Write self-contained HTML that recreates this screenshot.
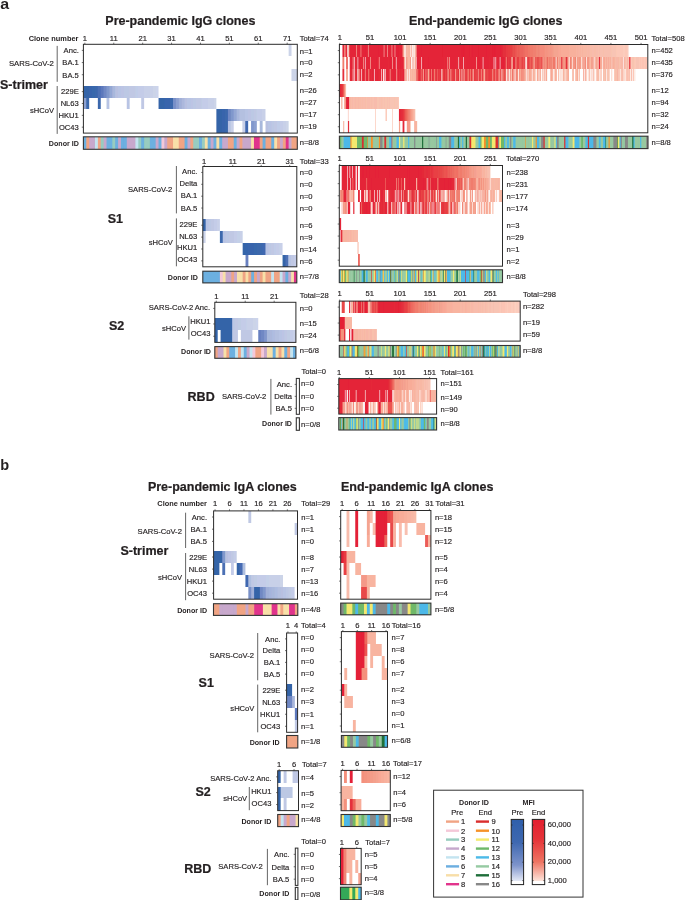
<!DOCTYPE html><html><head><meta charset="utf-8"><style>html,body{margin:0;padding:0;background:#fff}svg{display:block;will-change:transform}</style></head><body><svg width="685" height="900" viewBox="0 0 685 900" font-family="Liberation Sans, sans-serif" font-size="7.6" fill="#231f20"><style>text{stroke:#231f20;stroke-width:0.16px}text[font-weight="bold"]{stroke-width:0}text[font-size="12.5"]{stroke-width:0.22px}</style><rect width="685" height="900" fill="#fff"/><text x="0.30" y="8.90" font-weight="bold" textLength="8.90" lengthAdjust="spacingAndGlyphs" font-size="14">a</text><text x="105.30" y="25.10" font-weight="bold" font-size="12.5">Pre-pandemic IgG clones</text><text x="409.00" y="25.10" font-weight="bold" font-size="12.5">End-pandemic IgG clones</text><text x="78.40" y="41.20" font-weight="bold" text-anchor="end" font-size="7.4">Clone number</text><g stroke-width="12" fill="none"><path stroke="#ecf0f8" d="M288 50h1"/><path stroke="#ccd4e8" d="M289 50h2"/><path stroke="#e4e8f4" d="M291 50h1"/></g><g stroke-width="12" fill="none"><path stroke="#e4e8f4" d="M291 75h1"/><path stroke="#ccd4e8" d="M292 75h5"/><path stroke="#f0f0f8" d="M297 75h1"/></g><g stroke-width="12" fill="none"><path stroke="#84a4cc" d="M83 92h1"/><path stroke="#3464a8" d="M84 92h5"/><path stroke="#3864ac" d="M89 92h3"/><path stroke="#3868ac" d="M92 92h3"/><path stroke="#3c68ac" d="M95 92h2"/><path stroke="#4068b0" d="M97 92h1"/><path stroke="#4c70b4" d="M98 92h2"/><path stroke="#5070b8" d="M100 92h1"/><path stroke="#5c78bc" d="M101 92h2"/><path stroke="#6480c0" d="M103 92h1"/><path stroke="#7088c4" d="M104 92h2"/><path stroke="#7890c8" d="M106 92h1"/><path stroke="#8098cc" d="M107 92h2"/><path stroke="#8ca0d0" d="M109 92h1"/><path stroke="#94a8d4" d="M110 92h2"/><path stroke="#a4b0d8" d="M112 92h1"/><path stroke="#a8b8dc" d="M113 92h2"/><path stroke="#b4c0e0" d="M115 92h1"/><path stroke="#b8c0e0" d="M116 92h2"/><path stroke="#b8c4e4" d="M118 92h3"/><path stroke="#bcc4e4" d="M121 92h3"/><path stroke="#bcc8e4" d="M124 92h5"/><path stroke="#c0c8e4" d="M129 92h6"/><path stroke="#c0cce4" d="M135 92h1"/><path stroke="#c0cce8" d="M136 92h2"/><path stroke="#c4cce8" d="M138 92h6"/><path stroke="#c8d0e8" d="M144 92h9"/><path stroke="#ccd4e8" d="M153 92h3"/><path stroke="#ccd4ec" d="M156 92h2"/><path stroke="#e4e8f4" d="M158 92h1"/></g><g stroke-width="11" fill="none"><path stroke="#b8c4e4" d="M83 103.5h1m23 0h2m18 0h2m58 0h4"/><path stroke="#8ca0d0" d="M84 103.5h2m90 0h2"/><path stroke="#5078b8" d="M86 103.5h1"/><path stroke="#3c68ac" d="M87 103.5h2m9 0h2m70 0h3"/><path stroke="#dce4f0" d="M89 103.5h1m16 0h1"/><path stroke="#e4e8f4" d="M97 103.5h1m11 0h1"/><path stroke="#6c8cc0" d="M100 103.5h1"/><path stroke="#f0f0f8" d="M126 103.5h1"/><path stroke="#d0d8ec" d="M129 103.5h1"/><path stroke="#ccd4ec" d="M141 103.5h1"/><path stroke="#c0c8e4" d="M142 103.5h2m52 0h5"/><path stroke="#f8f8fc" d="M144 103.5h1"/><path stroke="#a4b8d8" d="M158 103.5h1"/><path stroke="#3464a8" d="M159 103.5h5"/><path stroke="#3464ac" d="M164 103.5h1"/><path stroke="#3864ac" d="M165 103.5h5"/><path stroke="#7890c8" d="M173 103.5h2"/><path stroke="#7c90c8" d="M175 103.5h1"/><path stroke="#90a0d0" d="M178 103.5h1"/><path stroke="#a0b0d8" d="M179 103.5h2"/><path stroke="#a4b0d8" d="M181 103.5h1"/><path stroke="#acb8dc" d="M182 103.5h2"/><path stroke="#b0bce0" d="M184 103.5h1"/><path stroke="#b8c0e0" d="M185 103.5h2"/><path stroke="#bcc4e4" d="M191 103.5h2"/><path stroke="#bcc8e4" d="M193 103.5h3"/><path stroke="#c0cce4" d="M201 103.5h1"/><path stroke="#c4cce8" d="M202 103.5h6"/><path stroke="#c8d0e8" d="M208 103.5h6"/><path stroke="#ccd4e8" d="M214 103.5h2"/><path stroke="#ecf0f8" d="M216 103.5h1"/></g><g stroke-width="12" fill="none"><path stroke="#809cc8" d="M216 115h1"/><path stroke="#3464a8" d="M217 115h5"/><path stroke="#3864ac" d="M222 115h3"/><path stroke="#3c68ac" d="M225 115h2"/><path stroke="#4068b0" d="M227 115h1"/><path stroke="#7088c4" d="M228 115h2"/><path stroke="#748cc4" d="M230 115h1"/><path stroke="#8098cc" d="M231 115h2"/><path stroke="#889cd0" d="M233 115h1"/><path stroke="#94a8d4" d="M234 115h2"/><path stroke="#9cacd8" d="M236 115h1"/><path stroke="#a8b8dc" d="M237 115h2"/><path stroke="#b0bce0" d="M239 115h1"/><path stroke="#b4c0e0" d="M240 115h5"/><path stroke="#b8c4e4" d="M245 115h3"/><path stroke="#bcc4e4" d="M248 115h3"/><path stroke="#bcc8e4" d="M251 115h3"/><path stroke="#c0c8e4" d="M254 115h2"/><path stroke="#c0cce4" d="M256 115h1"/><path stroke="#c4cce8" d="M257 115h5"/><path stroke="#c8d0e8" d="M262 115h3"/><path stroke="#e4e8f4" d="M265 115h1"/></g><g stroke-width="12" fill="none"><path stroke="#809cc8" d="M216 127h1"/><path stroke="#3464a8" d="M217 127h5"/><path stroke="#3864ac" d="M222 127h3"/><path stroke="#3868ac" d="M225 127h2"/><path stroke="#446cb0" d="M227 127h1"/><path stroke="#b8c4e4" d="M228 127h2m38 0h3"/><path stroke="#bcc8e4" d="M230 127h1m41 0h2"/><path stroke="#c8d0e8" d="M231 127h2m10 0h2m38 0h3"/><path stroke="#d8dcf0" d="M233 127h1"/><path stroke="#dce0f0" d="M242 127h1m22 0h1"/><path stroke="#6484c0" d="M245 127h1"/><path stroke="#4068b0" d="M246 127h2"/><path stroke="#e0e8f4" d="M248 127h1"/><path stroke="#889cd0" d="M251 127h1"/><path stroke="#8098cc" d="M252 127h1"/><path stroke="#8498cc" d="M253 127h1"/><path stroke="#8ca0d0" d="M254 127h2"/><path stroke="#a0b0d8" d="M256 127h1"/><path stroke="#e8ecf4" d="M259 127h1"/><path stroke="#a8b8dc" d="M260 127h2"/><path stroke="#c8d4e8" d="M262 127h1"/><path stroke="#b8c0e0" d="M266 127h2"/><path stroke="#bcc4e4" d="M271 127h1"/><path stroke="#c0c8e4" d="M274 127h3"/><path stroke="#c0cce8" d="M277 127h3"/><path stroke="#c4cce8" d="M280 127h3"/><path stroke="#ccd4e8" d="M286 127h2"/><path stroke="#dce4f0" d="M288 127h1"/></g><rect x="83.40" y="44.30" width="213.90" height="88.80" fill="none" stroke="#2b2b2b" stroke-width="1"/><path d="M83.40 50.38h-1.6" stroke="#333" stroke-width="0.7"/><path d="M83.40 62.55h-1.6" stroke="#333" stroke-width="0.7"/><path d="M83.40 74.72h-1.6" stroke="#333" stroke-width="0.7"/><path d="M83.40 91.62h-1.6" stroke="#333" stroke-width="0.7"/><path d="M83.40 103.47h-1.6" stroke="#333" stroke-width="0.7"/><path d="M83.40 115.33h-1.6" stroke="#333" stroke-width="0.7"/><path d="M83.40 127.17h-1.6" stroke="#333" stroke-width="0.7"/><path d="M84.85 44.30v-1.6" stroke="#333" stroke-width="0.7"/><path d="M113.75 44.30v-1.6" stroke="#333" stroke-width="0.7"/><path d="M142.66 44.30v-1.6" stroke="#333" stroke-width="0.7"/><path d="M171.56 44.30v-1.6" stroke="#333" stroke-width="0.7"/><path d="M200.47 44.30v-1.6" stroke="#333" stroke-width="0.7"/><path d="M229.37 44.30v-1.6" stroke="#333" stroke-width="0.7"/><path d="M258.28 44.30v-1.6" stroke="#333" stroke-width="0.7"/><path d="M287.18 44.30v-1.6" stroke="#333" stroke-width="0.7"/><text x="84.85" y="41.20" text-anchor="middle">1</text><text x="113.75" y="41.20" text-anchor="middle">11</text><text x="142.66" y="41.20" text-anchor="middle">21</text><text x="171.56" y="41.20" text-anchor="middle">31</text><text x="200.47" y="41.20" text-anchor="middle">41</text><text x="229.37" y="41.20" text-anchor="middle">51</text><text x="258.28" y="41.20" text-anchor="middle">61</text><text x="287.18" y="41.20" text-anchor="middle">71</text><text x="299.70" y="41.10">Total=74</text><text x="299.70" y="53.60">n=1</text><text x="299.70" y="65.40">n=0</text><text x="299.70" y="77.20">n=2</text><text x="299.70" y="93.20">n=26</text><text x="299.70" y="105.00">n=27</text><text x="299.70" y="117.20">n=17</text><text x="299.70" y="129.30">n=19</text><text x="78.80" y="53.18" text-anchor="end">Anc.</text><text x="78.80" y="65.35" text-anchor="end">BA.1</text><text x="78.80" y="77.52" text-anchor="end">BA.5</text><text x="78.80" y="94.42" text-anchor="end">229E</text><text x="78.80" y="106.27" text-anchor="end">NL63</text><text x="78.80" y="118.12" text-anchor="end">HKU1</text><text x="78.80" y="129.97" text-anchor="end">OC43</text><text x="8.90" y="65.60" textLength="45.00" lengthAdjust="spacingAndGlyphs">SARS-CoV-2</text><path d="M57.20 45.90V81.80" stroke="#555" stroke-width="0.9"/><text x="30.00" y="112.80">sHCoV</text><path d="M57.20 86.00V133.90" stroke="#555" stroke-width="0.9"/><text x="0.00" y="88.90" font-weight="bold" font-size="12.5">S-trimer</text><text x="78.80" y="145.70" font-weight="bold" text-anchor="end" font-size="7.1">Donor ID</text><g stroke-width="12" fill="none"><path stroke="#a8d0ec" d="M83 143h1"/><path stroke="#6cb0e0" d="M84 143h2m21 0h5m4 0h2m3 0h2m1 0h2m16 0h2m6 0h5m4 0h2m24 0h2m12 0h2m7 0h2m4 0h2m4 0h2m12 0h2m27 0h2m7 0h2"/><path stroke="#cca8a0" d="M86 143h1m146 0h1"/><path stroke="#f0a484" d="M87 143h2m9 0h2m68 0h5m6 0h5m7 0h2m35 0h5m7 0h2m18 0h2m4 0h5m7 0h1m4 0h2m7 0h5"/><path stroke="#cca8c0" d="M89 143h1m192 0h1"/><path stroke="#c8a8cc" d="M90 143h4m10 0h2m13 0h1m7 0h8m21 0h2m7 0h2m21 0h2m21 0h2m10 0h4m10 0h2m4 0h8m29 0h2m7 0h2"/><path stroke="#c4accc" d="M94 143h1"/><path stroke="#c4e4f0" d="M95 143h2m39 0h2"/><path stroke="#ccdce0" d="M97 143h1"/><path stroke="#d8b094" d="M100 143h1"/><path stroke="#98ccc0" d="M101 143h2m10 0h2m24 0h2m4 0h4m45 0h5m3 0h2"/><path stroke="#a8c0c4" d="M103 143h1"/><path stroke="#9cacd4" d="M106 143h1m51 0h1m28 0h1"/><path stroke="#88c4c8" d="M112 143h1"/><path stroke="#74b4d8" d="M115 143h1m25 0h1"/><path stroke="#c0a8cc" d="M118 143h1"/><path stroke="#c4a8cc" d="M120 143h1"/><path stroke="#6cace0" d="M123 143h1"/><path stroke="#80acdc" d="M126 143h1"/><path stroke="#c4cce0" d="M135 143h1"/><path stroke="#a4d4d0" d="M138 143h1"/><path stroke="#90c8c0" d="M144 143h1m4 0h1"/><path stroke="#8cacd8" d="M155 143h1"/><path stroke="#b8bcdc" d="M161 143h1"/><path stroke="#f4c8d8" d="M162 143h2"/><path stroke="#d4b4d0" d="M164 143h1"/><path stroke="#e8a494" d="M167 143h1"/><path stroke="#f8dca8" d="M173 143h1"/><path stroke="#f8e0a8" d="M174 143h4m27 0h2m10 0h2m33 0h1m22 0h2"/><path stroke="#f8d0a0" d="M178 143h1"/><path stroke="#b8a8ac" d="M184 143h1"/><path stroke="#e0a49c" d="M190 143h1"/><path stroke="#acc4b0" d="M193 143h1"/><path stroke="#70b0dc" d="M201 143h1"/><path stroke="#a8d0b8" d="M204 143h1"/><path stroke="#ccd0b8" d="M207 143h1"/><path stroke="#90acd8" d="M210 143h1m25 0h1"/><path stroke="#98acd8" d="M213 143h1"/><path stroke="#c4ccbc" d="M216 143h1"/><path stroke="#90bcd0" d="M219 143h1"/><path stroke="#b8a8d0" d="M222 143h1"/><path stroke="#c8a8c8" d="M227 143h1"/><path stroke="#dca4a8" d="M239 143h1"/><path stroke="#d8a8b0" d="M242 143h1"/><path stroke="#f4dca8" d="M251 143h1"/><path stroke="#f8d4a8" d="M253 143h1"/><path stroke="#e0348c" d="M254 143h5m27 0h2"/><path stroke="#e85488" d="M259 143h1"/><path stroke="#bca8a8" d="M262 143h1"/><path stroke="#aca8b4" d="M265 143h1"/><path stroke="#90acc4" d="M271 143h1"/><path stroke="#e0d4b0" d="M274 143h1"/><path stroke="#f0a888" d="M277 143h1"/><path stroke="#f0a488" d="M279 143h1"/><path stroke="#ec8888" d="M285 143h1"/><path stroke="#d860a4" d="M288 143h1"/><path stroke="#dca8a8" d="M291 143h1"/><path stroke="#fce4dc" d="M297 143h1"/></g><rect x="83.40" y="136.80" width="213.90" height="12.50" fill="none" stroke="#333" stroke-width="1.1"/><text x="299.70" y="145.30">n=8/8</text><g stroke-width="13" fill="none"><path stroke="#f0848c" d="M342 50.5h1"/><path stroke="#e42038" d="M343 50.5h1m21 0h1m12 0h1m14 0h1m2 0h2m23 0h1m39 0h2m1 0h1m4 0h1m2 0h1m13 0h1m6 0h1m1 0h1m4 0h1"/><path stroke="#f08078" d="M344 50.5h1"/><path stroke="#ec6464" d="M345 50.5h1"/><path stroke="#e42838" d="M346 50.5h1m10 0h1m112 0h1m31 0h1"/><path stroke="#f8c0c4" d="M347 50.5h1"/><path stroke="#f8c0b8" d="M348 50.5h1"/><path stroke="#e8484c" d="M349 50.5h1"/><path stroke="#e42438" d="M350 50.5h6m2 0h2m2 0h3m1 0h1m2 0h9m1 0h4m2 0h2m1 0h3m8 0h3m15 0h4m1 0h20m1 0h18m4 0h4m2 0h1m1 0h5m1 0h7m1 0h5m4 0h4m1 0h1"/><path stroke="#f0807c" d="M356 50.5h1"/><path stroke="#ec585c" d="M360 50.5h1m41 0h1"/><path stroke="#e84c54" d="M361 50.5h1"/><path stroke="#e42c3c" d="M367 50.5h1"/><path stroke="#f07878" d="M368 50.5h1m47 0h1"/><path stroke="#e84c58" d="M383 50.5h1m8 0h1"/><path stroke="#ec5c64" d="M384 50.5h1m6 0h1"/><path stroke="#f08080" d="M387 50.5h1"/><path stroke="#ec5860" d="M394 50.5h1"/><path stroke="#e8505c" d="M395 50.5h1"/><path stroke="#e42034" d="M398 50.5h1m43 0h1m20 0h1m14 0h1m13 0h1m1 0h1"/><path stroke="#f4a490" d="M403 50.5h1m150 0h4"/><path stroke="#fce0d8" d="M404 50.5h2"/><path stroke="#f8b4a4" d="M406 50.5h1m8 0h1m163 0h1"/><path stroke="#f8b8a4" d="M407 50.5h1m173 0h1m1 0h4m1 0h1"/><path stroke="#f8b4a0" d="M408 50.5h2m166 0h1m1 0h1m1 0h1m1 0h1"/><path stroke="#fcdcd4" d="M410 50.5h1m2 0h1"/><path stroke="#f8bcac" d="M411 50.5h1m180 0h2m2 0h2m1 0h1"/><path stroke="#fce8e4" d="M412 50.5h1"/><path stroke="#fce4dc" d="M414 50.5h1m213 0h1"/><path stroke="#e4303c" d="M503 50.5h3"/><path stroke="#e83840" d="M506 50.5h2"/><path stroke="#e83c40" d="M508 50.5h2"/><path stroke="#e84044" d="M510 50.5h2"/><path stroke="#e84848" d="M512 50.5h1"/><path stroke="#e8504c" d="M513 50.5h1"/><path stroke="#e84c4c" d="M514 50.5h1"/><path stroke="#ec5450" d="M515 50.5h1"/><path stroke="#ec5854" d="M516 50.5h1"/><path stroke="#ec6058" d="M517 50.5h1m1 0h1"/><path stroke="#ec5c54" d="M518 50.5h1"/><path stroke="#ec645c" d="M520 50.5h3"/><path stroke="#ec6860" d="M523 50.5h1"/><path stroke="#ec6c60" d="M524 50.5h1"/><path stroke="#f07064" d="M525 50.5h3"/><path stroke="#f07868" d="M528 50.5h2"/><path stroke="#f07c6c" d="M530 50.5h3"/><path stroke="#f08070" d="M533 50.5h3"/><path stroke="#f08874" d="M536 50.5h1"/><path stroke="#f08878" d="M537 50.5h1m1 0h1"/><path stroke="#f08474" d="M538 50.5h1"/><path stroke="#f48c7c" d="M540 50.5h4"/><path stroke="#f4907c" d="M544 50.5h1"/><path stroke="#f49484" d="M545 50.5h1m1 0h1"/><path stroke="#f49480" d="M546 50.5h1"/><path stroke="#f49884" d="M548 50.5h1m1 0h1"/><path stroke="#f49888" d="M549 50.5h1m1 0h1"/><path stroke="#f49c88" d="M552 50.5h1"/><path stroke="#f4a08c" d="M553 50.5h1"/><path stroke="#f8a494" d="M558 50.5h1"/><path stroke="#f8a894" d="M559 50.5h2"/><path stroke="#f8ac98" d="M561 50.5h8"/><path stroke="#f8b09c" d="M569 50.5h7"/><path stroke="#f8b0a0" d="M577 50.5h1"/><path stroke="#f8b8a8" d="M587 50.5h1m1 0h1"/><path stroke="#f8bca8" d="M590 50.5h2m2 0h2"/><path stroke="#f8c0ac" d="M598 50.5h1m4 0h1"/><path stroke="#f8c0b0" d="M600 50.5h3m1 0h7"/><path stroke="#f8c4b0" d="M611 50.5h1"/><path stroke="#f8c4b4" d="M612 50.5h4"/><path stroke="#fcc8b4" d="M616 50.5h1"/><path stroke="#fcc8b8" d="M617 50.5h6m2 0h2"/><path stroke="#fcccbc" d="M623 50.5h2m2 0h1"/></g><g stroke-width="12" fill="none"><path stroke="#f8b4ac" d="M342 63h1"/><path stroke="#f07c6c" d="M343 63h1"/><path stroke="#fcdcd8" d="M344 63h1"/><path stroke="#f0746c" d="M346 63h2m214 0h1m4 0h1"/><path stroke="#f8c4c8" d="M349 63h1"/><path stroke="#e42438" d="M350 63h1m4 0h1m3 0h4m3 0h4m1 0h5m1 0h1m2 0h8m1 0h1m1 0h1m1 0h1m3 0h3m1 0h2m14 0h2m1 0h1m3 0h4m1 0h15m1 0h2m3 0h6m4 0h1m1 0h1m1 0h1m1 0h10m1 0h1m2 0h2m2 0h5m1 0h3m4 0h2m5 0h1"/><path stroke="#e42038" d="M351 63h1m24 0h1m13 0h1m9 0h1m27 0h1m73 0h2"/><path stroke="#e84854" d="M352 63h1"/><path stroke="#ec646c" d="M353 63h1"/><path stroke="#f4a4ac" d="M354 63h1m66 0h1"/><path stroke="#e42838" d="M356 63h1m31 0h1m30 0h1m24 0h1m11 0h2m3 0h1m3 0h1m23 0h1m23 0h1"/><path stroke="#ec7884" d="M357 63h1m142 0h1"/><path stroke="#e85464" d="M358 63h1m140 0h1"/><path stroke="#f0807c" d="M363 63h1"/><path stroke="#e43448" d="M364 63h1"/><path stroke="#f094a0" d="M365 63h1"/><path stroke="#f08480" d="M370 63h1m78 0h1"/><path stroke="#e83844" d="M378 63h1"/><path stroke="#f07074" d="M379 63h1m67 0h1"/><path stroke="#f08888" d="M392 63h1"/><path stroke="#e42034" d="M394 63h1m28 0h1m54 0h2m21 0h1"/><path stroke="#e83c4c" d="M395 63h1"/><path stroke="#f0909c" d="M396 63h1"/><path stroke="#e83c48" d="M403 63h1m44 0h1m56 0h1"/><path stroke="#f8ac98" d="M404 63h1m2 0h1m7 0h1m142 0h1m30 0h1m11 0h1"/><path stroke="#fce0d8" d="M405 63h1m180 0h1m15 0h1"/><path stroke="#f49c8c" d="M406 63h1m152 0h1"/><path stroke="#f8b8a4" d="M408 63h2m180 0h1m4 0h1m9 0h1m1 0h1m1 0h1m8 0h1"/><path stroke="#f49c88" d="M410 63h1m160 0h1m5 0h1m2 0h1"/><path stroke="#fcf4f4" d="M411 63h1"/><path stroke="#f8c8bc" d="M412 63h1"/><path stroke="#f8c4bc" d="M413 63h1"/><path stroke="#fcdcd4" d="M414 63h1m166 0h1"/><path stroke="#f49ca4" d="M416 63h1"/><path stroke="#e4283c" d="M422 63h1"/><path stroke="#f098a0" d="M458 63h1"/><path stroke="#e43444" d="M459 63h1"/><path stroke="#f4a8b0" d="M463 63h1"/><path stroke="#f4908c" d="M476 63h1"/><path stroke="#ec5868" d="M482 63h1"/><path stroke="#ec7480" d="M483 63h1"/><path stroke="#ec6474" d="M493 63h1"/><path stroke="#ec6874" d="M494 63h1"/><path stroke="#f08c98" d="M495 63h1"/><path stroke="#e84050" d="M496 63h1"/><path stroke="#f0706c" d="M506 63h1"/><path stroke="#e42c3c" d="M507 63h1"/><path stroke="#e83840" d="M508 63h1"/><path stroke="#e43440" d="M509 63h2"/><path stroke="#f08c84" d="M511 63h1"/><path stroke="#f4988c" d="M512 63h1"/><path stroke="#e42c38" d="M514 63h1"/><path stroke="#ec6868" d="M515 63h1"/><path stroke="#ec605c" d="M516 63h1"/><path stroke="#e83c40" d="M517 63h1"/><path stroke="#e83c44" d="M518 63h1m9 0h1"/><path stroke="#ec5c54" d="M519 63h1"/><path stroke="#ec5c58" d="M520 63h1"/><path stroke="#e85050" d="M521 63h1"/><path stroke="#e84044" d="M522 63h1"/><path stroke="#ec5450" d="M523 63h1"/><path stroke="#e8484c" d="M524 63h1"/><path stroke="#f8b8bc" d="M525 63h1"/><path stroke="#fcdcd0" d="M526 63h1"/><path stroke="#e85058" d="M527 63h1"/><path stroke="#e8504c" d="M529 63h1m8 0h1"/><path stroke="#ec6058" d="M530 63h1m1 0h1m3 0h1m2 0h1"/><path stroke="#e84c4c" d="M531 63h1m5 0h1"/><path stroke="#f08878" d="M533 63h1m10 0h1m1 0h1"/><path stroke="#f49488" d="M534 63h1"/><path stroke="#ec5854" d="M535 63h1"/><path stroke="#ec645c" d="M540 63h1"/><path stroke="#ec5050" d="M541 63h1"/><path stroke="#f0786c" d="M542 63h1"/><path stroke="#f49084" d="M543 63h1"/><path stroke="#f49480" d="M545 63h1m17 0h1"/><path stroke="#ec6c60" d="M547 63h1"/><path stroke="#f48c78" d="M548 63h1"/><path stroke="#f08070" d="M549 63h1m7 0h1m7 0h1"/><path stroke="#f08474" d="M550 63h2m18 0h1"/><path stroke="#f49484" d="M552 63h1m21 0h1"/><path stroke="#f07868" d="M553 63h2"/><path stroke="#f49c94" d="M555 63h1"/><path stroke="#f8c0b4" d="M556 63h1"/><path stroke="#f4a090" d="M560 63h1m31 0h1"/><path stroke="#e8444c" d="M561 63h1"/><path stroke="#f49888" d="M564 63h1m22 0h1"/><path stroke="#e4303c" d="M566 63h1m32 0h1"/><path stroke="#f8b4a4" d="M568 63h1m24 0h1m30 0h1"/><path stroke="#fcd4cc" d="M569 63h1m2 0h1"/><path stroke="#f49884" d="M573 63h1m5 0h1m8 0h1"/><path stroke="#f08874" d="M575 63h1"/><path stroke="#f8d0c8" d="M576 63h1"/><path stroke="#f4a08c" d="M578 63h1m12 0h1"/><path stroke="#f8b0a0" d="M582 63h1"/><path stroke="#f4a494" d="M583 63h2"/><path stroke="#f48c7c" d="M585 63h1"/><path stroke="#fcd0c8" d="M594 63h1"/><path stroke="#f4a490" d="M596 63h1"/><path stroke="#f8b09c" d="M597 63h1m12 0h1m2 0h1"/><path stroke="#f8a8a0" d="M598 63h1"/><path stroke="#f8a894" d="M600 63h1m3 0h1"/><path stroke="#f8ac9c" d="M603 63h1m2 0h1m1 0h1"/><path stroke="#f8c0b0" d="M611 63h1"/><path stroke="#f8b8a8" d="M612 63h1m3 0h2m3 0h2m4 0h1"/><path stroke="#f8b4a0" d="M614 63h1"/><path stroke="#f8bca8" d="M615 63h1"/><path stroke="#f8c0ac" d="M619 63h1m5 0h1"/><path stroke="#f8bcac" d="M620 63h1"/><path stroke="#fce0dc" d="M623 63h1"/><path stroke="#f8c4b4" d="M626 63h1m9 0h3"/><path stroke="#fcc4b4" d="M628 63h1m11 0h1m1 0h2m1 0h2"/><path stroke="#e84c50" d="M629 63h1"/><path stroke="#f48c88" d="M630 63h1"/><path stroke="#fcc8b8" d="M631 63h1m3 0h1m3 0h1m1 0h1m2 0h1"/><path stroke="#f8c4b0" d="M632 63h2"/><path stroke="#fcc8b4" d="M634 63h1"/><path stroke="#fce8e0" d="M647 63h1"/></g><g stroke-width="12" fill="none"><path stroke="#f08c90" d="M342 75h1"/><path stroke="#e4303c" d="M343 75h1m11 0h1m6 0h1m19 0h1m36 0h1m20 0h1m3 0h1m13 0h1"/><path stroke="#f8c8cc" d="M344 75h1"/><path stroke="#f8ac98" d="M346 75h2m80 0h1m55 0h1m45 0h1m37 0h1m8 0h1"/><path stroke="#f8c4c8" d="M349 75h1"/><path stroke="#e42838" d="M350 75h2m4 0h1m9 0h1m3 0h1m5 0h1m1 0h1m7 0h1m1 0h1m2 0h2m7 0h1"/><path stroke="#ec6068" d="M352 75h1"/><path stroke="#f07c88" d="M353 75h1"/><path stroke="#f4a8b0" d="M354 75h1m19 0h1m6 0h1"/><path stroke="#f4acb0" d="M357 75h1"/><path stroke="#f49890" d="M358 75h1"/><path stroke="#ec6c70" d="M359 75h1"/><path stroke="#e42c3c" d="M360 75h1m10 0h1m1 0h1m25 0h1m1 0h2m21 0h1m5 0h1m1 0h1"/><path stroke="#f4acb4" d="M361 75h1"/><path stroke="#e42438" d="M363 75h1m3 0h1m4 0h1m2 0h1m1 0h1m2 0h1m6 0h1m5 0h3m2 0h1m4 0h1"/><path stroke="#e43440" d="M364 75h1m71 0h1m9 0h1m7 0h1"/><path stroke="#f07074" d="M365 75h1"/><path stroke="#ec6c68" d="M368 75h1"/><path stroke="#e84048" d="M369 75h1"/><path stroke="#e42c38" d="M379 75h1"/><path stroke="#fce4e4" d="M383 75h1"/><path stroke="#f08088" d="M384 75h1"/><path stroke="#f4a4ac" d="M385 75h1"/><path stroke="#e8404c" d="M389 75h1"/><path stroke="#ec6868" d="M390 75h1"/><path stroke="#f07c7c" d="M396 75h1"/><path stroke="#e83c48" d="M397 75h1m22 0h1"/><path stroke="#f08480" d="M404 75h1"/><path stroke="#f8b0a0" d="M405 75h1"/><path stroke="#f8b8a8" d="M406 75h1m124 0h1m24 0h1"/><path stroke="#fce4dc" d="M407 75h1m98 0h1m2 0h1m51 0h2m15 0h1m9 0h1m5 0h1m4 0h1m20 0h1m4 0h1"/><path stroke="#f8c0b0" d="M408 75h1m102 0h1m46 0h1m7 0h1m6 0h1m29 0h1m17 0h1m5 0h1m1 0h1m1 0h1"/><path stroke="#fce4e0" d="M409 75h1m174 0h1"/><path stroke="#f8b4a0" d="M410 75h1m1 0h1m2 0h1m147 0h1m3 0h1"/><path stroke="#f8bca8" d="M411 75h1m185 0h2m6 0h1"/><path stroke="#f8b8a4" d="M413 75h1m120 0h1m41 0h1"/><path stroke="#f8b4a4" d="M414 75h1m110 0h1m26 0h1m30 0h1m1 0h1m31 0h1"/><path stroke="#f07474" d="M416 75h1m33 0h1"/><path stroke="#ec6860" d="M417 75h1m85 0h1"/><path stroke="#e83c44" d="M418 75h1m20 0h1m12 0h1m13 0h1m15 0h1m5 0h1"/><path stroke="#ec5c5c" d="M421 75h1"/><path stroke="#e8484c" d="M422 75h1"/><path stroke="#f4988c" d="M423 75h1m86 0h1"/><path stroke="#ec5c60" d="M425 75h1"/><path stroke="#e85058" d="M426 75h1"/><path stroke="#ec5858" d="M427 75h1m9 0h1m13 0h1"/><path stroke="#ec5c58" d="M429 75h1"/><path stroke="#f07870" d="M431 75h1"/><path stroke="#e83840" d="M433 75h1m4 0h1m4 0h1m9 0h1m17 0h1m2 0h1m14 0h1"/><path stroke="#f07c70" d="M434 75h1m48 0h1"/><path stroke="#e84044" d="M435 75h1m13 0h1m7 0h1m7 0h1m3 0h1m5 0h1m10 0h1m7 0h1"/><path stroke="#f4a0a8" d="M441 75h1"/><path stroke="#f08078" d="M442 75h1"/><path stroke="#e84444" d="M445 75h1"/><path stroke="#ec6c6c" d="M447 75h1m14 0h2"/><path stroke="#f0847c" d="M448 75h1m53 0h1"/><path stroke="#f49088" d="M455 75h1"/><path stroke="#e84448" d="M456 75h1m19 0h1m3 0h1m16 0h1"/><path stroke="#f4a498" d="M459 75h1"/><path stroke="#e85050" d="M460 75h1"/><path stroke="#f08484" d="M461 75h1"/><path stroke="#f0807c" d="M464 75h1"/><path stroke="#ec605c" d="M467 75h1"/><path stroke="#f0786c" d="M468 75h1"/><path stroke="#f07468" d="M470 75h1m41 0h1"/><path stroke="#ec6c64" d="M472 75h1"/><path stroke="#f49490" d="M473 75h1"/><path stroke="#e8444c" d="M477 75h1"/><path stroke="#f07c78" d="M478 75h1m13 0h1"/><path stroke="#e83c40" d="M479 75h1m10 0h2"/><path stroke="#f07c74" d="M481 75h1"/><path stroke="#e85054" d="M485 75h1"/><path stroke="#e84848" d="M487 75h1"/><path stroke="#ec5450" d="M493 75h1m6 0h1"/><path stroke="#f0706c" d="M495 75h1"/><path stroke="#e84c50" d="M496 75h1"/><path stroke="#f0746c" d="M498 75h1"/><path stroke="#f48c84" d="M499 75h1"/><path stroke="#f49494" d="M501 75h1"/><path stroke="#ec504c" d="M504 75h1"/><path stroke="#ec6460" d="M505 75h1"/><path stroke="#f4a09c" d="M507 75h1"/><path stroke="#f4a098" d="M508 75h1"/><path stroke="#f49c90" d="M513 75h1"/><path stroke="#f8b8ac" d="M514 75h1"/><path stroke="#f8c0bc" d="M515 75h1"/><path stroke="#f08474" d="M516 75h1"/><path stroke="#f48c7c" d="M517 75h1m3 0h1"/><path stroke="#fce8e0" d="M518 75h1"/><path stroke="#f49888" d="M519 75h1"/><path stroke="#f8a894" d="M520 75h1m8 0h1m7 0h1m8 0h1m4 0h1"/><path stroke="#f49080" d="M522 75h1"/><path stroke="#f49484" d="M523 75h1"/><path stroke="#f4a490" d="M524 75h1"/><path stroke="#fcdcd4" d="M526 75h1"/><path stroke="#f8c0b4" d="M527 75h1m22 0h1"/><path stroke="#f8c8b8" d="M528 75h1m35 0h1"/><path stroke="#fcd8d0" d="M532 75h1"/><path stroke="#f8b09c" d="M533 75h1m6 0h1m14 0h1"/><path stroke="#fcd4c8" d="M535 75h1m18 0h1m10 0h1m20 0h1m13 0h1m8 0h1m13 0h1"/><path stroke="#fcf0ec" d="M536 75h1"/><path stroke="#f8c4b8" d="M538 75h1"/><path stroke="#f8c8bc" d="M539 75h1"/><path stroke="#fff8f8" d="M541 75h1"/><path stroke="#f8ccc0" d="M542 75h1"/><path stroke="#fcdcd0" d="M543 75h1m47 0h1m32 0h1"/><path stroke="#f8bcb0" d="M544 75h1"/><path stroke="#fcd0c4" d="M545 75h1m55 0h1"/><path stroke="#fcf4f0" d="M547 75h1"/><path stroke="#fcece8" d="M553 75h1m5 0h1m30 0h1"/><path stroke="#fce0d8" d="M560 75h1m50 0h1"/><path stroke="#f8c4b4" d="M572 75h1m6 0h1m9 0h1m3 0h1m13 0h1m10 0h1"/><path stroke="#fcc8b8" d="M575 75h1m38 0h1m4 0h1m13 0h1"/><path stroke="#fff8f4" d="M587 75h1m7 0h1"/><path stroke="#fce0dc" d="M592 75h1"/><path stroke="#fcccc0" d="M596 75h1"/><path stroke="#f8c4b0" d="M604 75h1m3 0h1"/><path stroke="#fce8e4" d="M606 75h1m25 0h1"/><path stroke="#fff4f0" d="M612 75h1m22 0h1"/><path stroke="#f8c0ac" d="M615 75h2"/><path stroke="#f8bcac" d="M622 75h1"/><path stroke="#fcc4b4" d="M626 75h1m1 0h1"/><path stroke="#fcece4" d="M630 75h1m3 0h1"/></g><g stroke-width="13" fill="none"><path stroke="#f07c88" d="M339 90.5h1"/><path stroke="#e42838" d="M340 90.5h1"/><path stroke="#e4303c" d="M341 90.5h1"/><path stroke="#e83840" d="M342 90.5h1"/><path stroke="#ec5c54" d="M343 90.5h1"/><path stroke="#f48878" d="M344 90.5h1"/><path stroke="#f8b8a4" d="M345 90.5h1"/><path stroke="#fff8f8" d="M346 90.5h1"/></g><g stroke-width="12" fill="none"><path stroke="#f8c0b0" d="M341 103h1m31 0h1m5 0h2m1 0h1m1 0h1m2 0h1m1 0h1"/><path stroke="#fcdcd0" d="M342 103h1"/><path stroke="#f8b4a4" d="M344 103h1"/><path stroke="#f49888" d="M345 103h1"/><path stroke="#e42c3c" d="M346 103h1"/><path stroke="#e42038" d="M347 103h1"/><path stroke="#e42034" d="M348 103h1"/><path stroke="#f8a89c" d="M349 103h1"/><path stroke="#f8b8a4" d="M350 103h1"/><path stroke="#f8bca8" d="M351 103h1m2 0h1m1 0h2m1 0h2m1 0h1m2 0h1"/><path stroke="#f8b8a8" d="M352 103h1m2 0h1m2 0h1"/><path stroke="#f8bcac" d="M353 103h1m7 0h1m1 0h2m2 0h3m1 0h1m2 0h3"/><path stroke="#f8c0ac" d="M366 103h1m3 0h1m1 0h1m8 0h1"/><path stroke="#f8c4b0" d="M377 103h2m4 0h1m1 0h2m1 0h1m5 0h1"/><path stroke="#f8c4b4" d="M390 103h4m1 0h3"/><path stroke="#fcc8b8" d="M398 103h1"/></g><g stroke-width="12" fill="none"><path stroke="#fff8f8" d="M347 115h1"/><path stroke="#fcdcd4" d="M348 115h1"/><path stroke="#fcd8cc" d="M375 115h1m16 0h1"/><path stroke="#fce4dc" d="M385 115h1"/><path stroke="#fcccbc" d="M386 115h1"/><path stroke="#fcf0f0" d="M398 115h1"/><path stroke="#e42438" d="M399 115h1"/><path stroke="#e42838" d="M400 115h1"/><path stroke="#e42c3c" d="M401 115h1"/><path stroke="#e4303c" d="M402 115h1"/><path stroke="#e83840" d="M403 115h1"/><path stroke="#e84848" d="M404 115h1"/><path stroke="#ec5c54" d="M405 115h1"/><path stroke="#ec685c" d="M406 115h1"/><path stroke="#f07464" d="M407 115h1"/><path stroke="#f08070" d="M408 115h1"/><path stroke="#f08878" d="M409 115h1"/><path stroke="#f49480" d="M410 115h1"/><path stroke="#f4a08c" d="M411 115h1"/><path stroke="#f8a894" d="M412 115h1"/><path stroke="#f8b4a0" d="M413 115h1"/><path stroke="#f8bcac" d="M414 115h1"/><path stroke="#fcece4" d="M415 115h1"/></g><g stroke-width="12" fill="none"><path stroke="#f8c0b0" d="M343 127h1"/><path stroke="#fcece8" d="M344 127h1"/><path stroke="#fcecec" d="M347 127h1m58 0h1"/><path stroke="#e4303c" d="M348 127h1"/><path stroke="#fce8e8" d="M349 127h1"/><path stroke="#fcd8cc" d="M375 127h1m16 0h1"/><path stroke="#fff8f8" d="M398 127h1"/><path stroke="#f4a490" d="M399 127h1"/><path stroke="#fcf0f0" d="M400 127h1"/><path stroke="#f4a4ac" d="M402 127h1"/><path stroke="#e42838" d="M403 127h1"/><path stroke="#f4a8b0" d="M404 127h1"/><path stroke="#f49888" d="M407 127h3"/><path stroke="#f8d0c4" d="M410 127h1"/><path stroke="#f8bcac" d="M414 127h1"/><path stroke="#f8b4a0" d="M415 127h2"/><path stroke="#fcf4f0" d="M417 127h1"/></g><rect x="339.40" y="44.50" width="308.40" height="88.30" fill="none" stroke="#2b2b2b" stroke-width="1"/><path d="M339.40 50.57h-1.6" stroke="#333" stroke-width="0.7"/><path d="M339.40 62.70h-1.6" stroke="#333" stroke-width="0.7"/><path d="M339.40 74.83h-1.6" stroke="#333" stroke-width="0.7"/><path d="M339.40 90.54h-1.6" stroke="#333" stroke-width="0.7"/><path d="M339.40 102.61h-1.6" stroke="#333" stroke-width="0.7"/><path d="M339.40 114.69h-1.6" stroke="#333" stroke-width="0.7"/><path d="M339.40 126.76h-1.6" stroke="#333" stroke-width="0.7"/><path d="M339.80 44.50v-1.6" stroke="#333" stroke-width="0.7"/><path d="M369.92 44.50v-1.6" stroke="#333" stroke-width="0.7"/><path d="M400.05 44.50v-1.6" stroke="#333" stroke-width="0.7"/><path d="M430.17 44.50v-1.6" stroke="#333" stroke-width="0.7"/><path d="M460.30 44.50v-1.6" stroke="#333" stroke-width="0.7"/><path d="M490.42 44.50v-1.6" stroke="#333" stroke-width="0.7"/><path d="M520.55 44.50v-1.6" stroke="#333" stroke-width="0.7"/><path d="M550.67 44.50v-1.6" stroke="#333" stroke-width="0.7"/><path d="M580.80 44.50v-1.6" stroke="#333" stroke-width="0.7"/><path d="M610.92 44.50v-1.6" stroke="#333" stroke-width="0.7"/><path d="M641.05 44.50v-1.6" stroke="#333" stroke-width="0.7"/><text x="339.80" y="40.30" text-anchor="middle">1</text><text x="369.92" y="40.30" text-anchor="middle">51</text><text x="400.05" y="40.30" text-anchor="middle">101</text><text x="430.17" y="40.30" text-anchor="middle">151</text><text x="460.30" y="40.30" text-anchor="middle">201</text><text x="490.42" y="40.30" text-anchor="middle">251</text><text x="520.55" y="40.30" text-anchor="middle">301</text><text x="550.67" y="40.30" text-anchor="middle">351</text><text x="580.80" y="40.30" text-anchor="middle">401</text><text x="610.92" y="40.30" text-anchor="middle">451</text><text x="641.05" y="40.30" text-anchor="middle">501</text><text x="651.50" y="40.50">Total=508</text><text x="651.50" y="52.60">n=452</text><text x="651.50" y="64.50">n=435</text><text x="651.50" y="76.50">n=376</text><text x="651.50" y="92.60">n=12</text><text x="651.50" y="104.60">n=94</text><text x="651.50" y="116.50">n=32</text><text x="651.50" y="128.80">n=24</text><g stroke-width="13" fill="none"><path stroke="#f8f4a8" d="M339 142.5h1"/><path stroke="#70b86c" d="M340 142.5h1m16 0h1m224 0h1"/><path stroke="#8cc494" d="M341 142.5h1"/><path stroke="#98c8a0" d="M342 142.5h1m25 0h3m3 0h3m6 0h1m4 0h1m4 0h1m1 0h1m6 0h1m2 0h1m1 0h1m2 0h3m3 0h4m1 0h1m2 0h3m4 0h3m4 0h1m4 0h1m3 0h1m7 0h1m5 0h1m2 0h1m2 0h2m7 0h2m28 0h1m2 0h1m2 0h1m3 0h6m1 0h2m1 0h2m1 0h2m3 0h1m5 0h1m4 0h3m4 0h2m5 0h5m5 0h2m9 0h1m2 0h2m12 0h1m3 0h2m4 0h1m2 0h3m9 0h1m5 0h4m3 0h3m1 0h1m2 0h4"/><path stroke="#7cc4bc" d="M343 142.5h1m235 0h1"/><path stroke="#4cb8e8" d="M344 142.5h6m40 0h1m6 0h1m42 0h1m11 0h2m25 0h1m34 0h1m22 0h2m27 0h2m7 0h4m7 0h1m3 0h3m6 0h1m4 0h1"/><path stroke="#bca068" d="M350 142.5h1"/><path stroke="#f4b848" d="M351 142.5h1"/><path stroke="#f4e86c" d="M352 142.5h1m2 0h1m117 0h1m9 0h1m8 0h1m1 0h1m5 0h1"/><path stroke="#f4e870" d="M353 142.5h2m1 0h1m42 0h1m72 0h1m1 0h1m7 0h1m10 0h1m38 0h1m16 0h1m23 0h1m44 0h1"/><path stroke="#70b868" d="M358 142.5h1m1 0h1m3 0h2m120 0h1m15 0h2"/><path stroke="#6cb868" d="M359 142.5h1m6 0h1m120 0h1m13 0h1"/><path stroke="#7ca864" d="M361 142.5h1"/><path stroke="#d83030" d="M362 142.5h1m22 0h1m84 0h1m25 0h1m91 0h1"/><path stroke="#b85840" d="M363 142.5h1"/><path stroke="#c4a044" d="M367 142.5h1"/><path stroke="#f89028" d="M371 142.5h1m7 0h1m104 0h1m4 0h1"/><path stroke="#e49c40" d="M372 142.5h1"/><path stroke="#94c8a0" d="M373 142.5h1m3 0h1m9 0h1m6 0h1m6 0h1m4 0h1m6 0h1m6 0h1m6 0h1m2 0h1m3 0h2m1 0h1m4 0h1m1 0h1m11 0h1m65 0h1m5 0h1m22 0h1m19 0h1m51 0h1m14 0h1"/><path stroke="#a0c494" d="M378 142.5h1"/><path stroke="#948880" d="M380 142.5h1"/><path stroke="#888888" d="M381 142.5h1m67 0h2m47 0h1m43 0h1m14 0h1m36 0h2m18 0h3m8 0h2m20 0h1"/><path stroke="#90a894" d="M382 142.5h1"/><path stroke="#c06458" d="M384 142.5h1"/><path stroke="#a0b08c" d="M386 142.5h1"/><path stroke="#5cbcd8" d="M389 142.5h1"/><path stroke="#8088a4" d="M391 142.5h1"/><path stroke="#a8a484" d="M392 142.5h1"/><path stroke="#70c4c4" d="M396 142.5h1m81 0h1"/><path stroke="#58bce0" d="M398 142.5h1m114 0h1"/><path stroke="#a4d09c" d="M400 142.5h1"/><path stroke="#e4e478" d="M403 142.5h1"/><path stroke="#bcd88c" d="M404 142.5h1"/><path stroke="#50bce4" d="M408 142.5h1m98 0h1m95 0h1"/><path stroke="#84c4b4" d="M409 142.5h1m129 0h1"/><path stroke="#88908c" d="M414 142.5h1m95 0h1m110 0h1"/><path stroke="#90b498" d="M415 142.5h1m30 0h1m64 0h1"/><path stroke="#20703c" d="M422 142.5h1m43 0h1"/><path stroke="#7cb488" d="M423 142.5h1"/><path stroke="#90b89c" d="M428 142.5h1m16 0h1"/><path stroke="#90b49c" d="M429 142.5h1"/><path stroke="#8ca494" d="M436 142.5h1"/><path stroke="#4cbce8" d="M439 142.5h1"/><path stroke="#74c4c0" d="M441 142.5h1"/><path stroke="#94b89c" d="M448 142.5h1"/><path stroke="#58b0d8" d="M451 142.5h1"/><path stroke="#88c8b0" d="M454 142.5h1m143 0h1"/><path stroke="#84bc94" d="M457 142.5h1"/><path stroke="#207038" d="M458 142.5h1"/><path stroke="#48b4dc" d="M459 142.5h1"/><path stroke="#80c4b8" d="M460 142.5h1m180 0h1"/><path stroke="#54bce0" d="M462 142.5h1m45 0h1m131 0h1"/><path stroke="#7cc4b8" d="M463 142.5h1"/><path stroke="#78b488" d="M465 142.5h1"/><path stroke="#c06c5c" d="M469 142.5h1"/><path stroke="#f0c060" d="M471 142.5h1"/><path stroke="#c4d888" d="M475 142.5h1"/><path stroke="#64b894" d="M480 142.5h1"/><path stroke="#acd06c" d="M481 142.5h1"/><path stroke="#dc9834" d="M485 142.5h1"/><path stroke="#d89c38" d="M488 142.5h1"/><path stroke="#74b468" d="M490 142.5h1"/><path stroke="#80c06c" d="M491 142.5h1"/><path stroke="#e89050" d="M495 142.5h1"/><path stroke="#d83434" d="M497 142.5h1"/><path stroke="#e0d874" d="M499 142.5h1"/><path stroke="#4cb8e4" d="M504 142.5h1"/><path stroke="#84c8b4" d="M505 142.5h1"/><path stroke="#6cc0c8" d="M515 142.5h1m69 0h1"/><path stroke="#d0a858" d="M525 142.5h1"/><path stroke="#98cca0" d="M531 142.5h1"/><path stroke="#a8d098" d="M533 142.5h1m16 0h1"/><path stroke="#bcb474" d="M535 142.5h1"/><path stroke="#d89848" d="M536 142.5h1"/><path stroke="#888c8c" d="M541 142.5h1"/><path stroke="#b05c5c" d="M543 142.5h1"/><path stroke="#c8584c" d="M544 142.5h1"/><path stroke="#d0e080" d="M548 142.5h1"/><path stroke="#c8dc84" d="M554 142.5h1"/><path stroke="#bcd898" d="M555 142.5h1"/><path stroke="#54b4dc" d="M556 142.5h1"/><path stroke="#8c9c90" d="M558 142.5h1"/><path stroke="#d04840" d="M564 142.5h1"/><path stroke="#8484a0" d="M565 142.5h1"/><path stroke="#78c4c0" d="M568 142.5h1"/><path stroke="#b4d490" d="M572 142.5h1"/><path stroke="#a0d0ac" d="M574 142.5h1"/><path stroke="#74bc74" d="M581 142.5h1"/><path stroke="#60a8cc" d="M587 142.5h1"/><path stroke="#58b0dc" d="M589 142.5h1"/><path stroke="#7498a8" d="M593 142.5h1"/><path stroke="#90b098" d="M596 142.5h1"/><path stroke="#68c0cc" d="M600 142.5h1"/><path stroke="#34948c" d="M605 142.5h1"/><path stroke="#8cc498" d="M606 142.5h1"/><path stroke="#c4b068" d="M608 142.5h1"/><path stroke="#dca048" d="M609 142.5h1"/><path stroke="#8ca090" d="M613 142.5h1"/><path stroke="#709c50" d="M617 142.5h1"/><path stroke="#98d0b0" d="M619 142.5h1"/><path stroke="#60a8c8" d="M620 142.5h1"/><path stroke="#94c4a0" d="M624 142.5h1"/><path stroke="#888c88" d="M627 142.5h1"/><path stroke="#388050" d="M632 142.5h1"/><path stroke="#389ca0" d="M633 142.5h1"/><path stroke="#68c0d0" d="M634 142.5h1"/><path stroke="#8c948c" d="M646 142.5h1"/></g><rect x="339.40" y="136.20" width="308.60" height="12.40" fill="none" stroke="#333" stroke-width="1.1"/><text x="651.50" y="145.30">n=8/8</text><g stroke-width="12" fill="none"><path stroke="#d8e0f0" d="M202 225h1"/><path stroke="#3464a8" d="M203 225h2"/><path stroke="#6484bc" d="M205 225h1"/><path stroke="#b8c4e4" d="M206 225h2"/><path stroke="#bcc4e4" d="M208 225h1"/><path stroke="#bcc8e4" d="M209 225h2"/><path stroke="#c0c8e4" d="M211 225h3"/><path stroke="#c4cce8" d="M214 225h3"/><path stroke="#c8d0e8" d="M217 225h2"/><path stroke="#ccd4ec" d="M219 225h1"/></g><g stroke-width="12" fill="none"><path stroke="#f4f8fc" d="M202 237h1"/><path stroke="#ccd4ec" d="M203 237h2"/><path stroke="#e0e4f0" d="M205 237h1"/><path stroke="#e8f0f8" d="M219 237h1"/><path stroke="#3c68ac" d="M220 237h2"/><path stroke="#5c80bc" d="M222 237h1"/><path stroke="#b8c4e4" d="M223 237h2"/><path stroke="#bcc4e4" d="M225 237h1"/><path stroke="#bcc8e4" d="M226 237h3"/><path stroke="#c0c8e4" d="M229 237h5"/><path stroke="#c4cce8" d="M234 237h3"/><path stroke="#c4d0e8" d="M237 237h3"/><path stroke="#c8d0e8" d="M240 237h2"/><path stroke="#d8e0f0" d="M242 237h1"/></g><g stroke-width="12" fill="none"><path stroke="#bccce4" d="M242 249h1"/><path stroke="#3464a8" d="M243 249h2"/><path stroke="#3464ac" d="M245 249h3"/><path stroke="#3864ac" d="M248 249h6"/><path stroke="#3868ac" d="M254 249h3"/><path stroke="#3c68ac" d="M257 249h5"/><path stroke="#3c68b0" d="M262 249h1"/><path stroke="#4068b0" d="M263 249h2"/><path stroke="#8098cc" d="M265 249h1"/><path stroke="#b8c4e4" d="M266 249h2"/><path stroke="#bcc4e4" d="M268 249h1"/><path stroke="#bcc8e4" d="M269 249h2"/><path stroke="#c0c8e4" d="M271 249h3"/><path stroke="#c0cce8" d="M274 249h2"/><path stroke="#c4cce8" d="M276 249h3"/><path stroke="#c4d0e8" d="M279 249h1"/><path stroke="#c8d0e8" d="M280 249h2"/><path stroke="#e0e4f4" d="M282 249h1"/></g><g stroke-width="12" fill="none"><path stroke="#b8c4e0" d="M245 261h1"/><path stroke="#6880c0" d="M246 261h2"/><path stroke="#c4d0e8" d="M248 261h1"/><path stroke="#a4bcd8" d="M282 261h1"/><path stroke="#3464a8" d="M283 261h2"/><path stroke="#4068b0" d="M285 261h1"/><path stroke="#4c70b4" d="M286 261h2"/><path stroke="#9cb0d8" d="M288 261h1"/><path stroke="#b8c4e4" d="M289 261h2"/><path stroke="#c0c8e4" d="M291 261h3"/><path stroke="#c4cce8" d="M294 261h2"/><path stroke="#d0d8ec" d="M296 261h1"/></g><rect x="202.80" y="166.50" width="94.00" height="100.30" fill="none" stroke="#2b2b2b" stroke-width="1"/><path d="M202.80 172.44h-1.6" stroke="#333" stroke-width="0.7"/><path d="M202.80 184.31h-1.6" stroke="#333" stroke-width="0.7"/><path d="M202.80 196.19h-1.6" stroke="#333" stroke-width="0.7"/><path d="M202.80 208.06h-1.6" stroke="#333" stroke-width="0.7"/><path d="M202.80 225.24h-1.6" stroke="#333" stroke-width="0.7"/><path d="M202.80 237.11h-1.6" stroke="#333" stroke-width="0.7"/><path d="M202.80 248.99h-1.6" stroke="#333" stroke-width="0.7"/><path d="M202.80 260.86h-1.6" stroke="#333" stroke-width="0.7"/><path d="M204.22 166.50v-1.6" stroke="#333" stroke-width="0.7"/><path d="M232.71 166.50v-1.6" stroke="#333" stroke-width="0.7"/><path d="M261.19 166.50v-1.6" stroke="#333" stroke-width="0.7"/><path d="M289.68 166.50v-1.6" stroke="#333" stroke-width="0.7"/><text x="204.22" y="163.70" text-anchor="middle">1</text><text x="232.71" y="163.70" text-anchor="middle">11</text><text x="261.19" y="163.70" text-anchor="middle">21</text><text x="289.68" y="163.70" text-anchor="middle">31</text><text x="299.70" y="163.70">Total=33</text><text x="299.70" y="175.30">n=0</text><text x="299.70" y="187.30">n=0</text><text x="299.70" y="199.30">n=0</text><text x="299.70" y="211.30">n=0</text><text x="299.70" y="227.70">n=6</text><text x="299.70" y="239.50">n=9</text><text x="299.70" y="251.50">n=14</text><text x="299.70" y="263.50">n=6</text><text x="197.30" y="174.30" text-anchor="end">Anc.</text><text x="197.30" y="186.20" text-anchor="end">Delta</text><text x="197.30" y="198.40" text-anchor="end">BA.1</text><text x="197.30" y="210.60" text-anchor="end">BA.5</text><text x="197.30" y="226.60" text-anchor="end">229E</text><text x="197.30" y="238.50" text-anchor="end">NL63</text><text x="197.30" y="250.40" text-anchor="end">HKU1</text><text x="197.30" y="262.40" text-anchor="end">OC43</text><text x="128.00" y="192.00">SARS-CoV-2</text><path d="M176.40 166.00V213.40" stroke="#555" stroke-width="0.9"/><text x="148.70" y="244.70">sHCoV</text><path d="M176.40 218.40V266.30" stroke="#555" stroke-width="0.9"/><text x="107.70" y="222.60" font-weight="bold" font-size="12.5">S1</text><text x="197.80" y="279.70" font-weight="bold" text-anchor="end" font-size="7.1">Donor ID</text><g stroke-width="12" fill="none"><path stroke="#e0f0f8" d="M202 277h1"/><path stroke="#6cb0e0" d="M203 277h16m33 0h2m32 0h2"/><path stroke="#7cb0e0" d="M219 277h1"/><path stroke="#f4c8d8" d="M220 277h2"/><path stroke="#f4cccc" d="M222 277h1"/><path stroke="#f8e0a8" d="M223 277h2m12 0h5m4 0h2m15 0h2m27 0h1"/><path stroke="#e4c8b8" d="M225 277h1"/><path stroke="#c8a8cc" d="M226 277h5m4 0h2m20 0h2m24 0h2m4 0h2"/><path stroke="#e4a498" d="M231 277h1"/><path stroke="#f0a484" d="M232 277h2m9 0h2m4 0h2m4 0h1m4 0h2m4 0h5m3 0h5"/><path stroke="#cca8c4" d="M234 277h1"/><path stroke="#f4cc9c" d="M242 277h1"/><path stroke="#f4c094" d="M245 277h1m19 0h1"/><path stroke="#f4b890" d="M248 277h1"/><path stroke="#88accc" d="M251 277h1"/><path stroke="#e8a48c" d="M254 277h1"/><path stroke="#eca488" d="M256 277h1"/><path stroke="#d0a8bc" d="M259 277h1"/><path stroke="#f4bc90" d="M262 277h1"/><path stroke="#ccd8e0" d="M271 277h1"/><path stroke="#c4e4f0" d="M272 277h2m6 0h2"/><path stroke="#e4b8a4" d="M279 277h1"/><path stroke="#c4c8e0" d="M282 277h1"/><path stroke="#90acd8" d="M285 277h1"/><path stroke="#b0a8d0" d="M288 277h1"/><path stroke="#f4d8ac" d="M291 277h1"/><path stroke="#f8d4a8" d="M293 277h1"/><path stroke="#e0348c" d="M294 277h2"/><path stroke="#e85ca4" d="M296 277h1"/></g><rect x="202.80" y="271.20" width="94.00" height="11.70" fill="none" stroke="#333" stroke-width="1.1"/><text x="299.70" y="279.30">n=7/8</text><g stroke-width="12" fill="none"><path stroke="#f8c0c8" d="M341 172h1"/><path stroke="#e42438" d="M342 172h5m1 0h1m2 0h1m1 0h2m2 0h1m2 0h2m2 0h2m1 0h2m1 0h5m1 0h2m1 0h10m1 0h17m1 0h1m1 0h8m1 0h3"/><path stroke="#f4a8b0" d="M347 172h1m4 0h1"/><path stroke="#f0808c" d="M349 172h1"/><path stroke="#e84c5c" d="M350 172h1"/><path stroke="#f07884" d="M355 172h1"/><path stroke="#fcd8dc" d="M356 172h1"/><path stroke="#fcf8f8" d="M358 172h1"/><path stroke="#fce0e0" d="M359 172h1"/><path stroke="#e42038" d="M362 172h2m2 0h1m2 0h1m5 0h1m2 0h1m10 0h1m17 0h1m1 0h1m8 0h1"/><path stroke="#e42838" d="M422 172h2"/><path stroke="#e4303c" d="M424 172h2m2 0h2"/><path stroke="#e42c3c" d="M426 172h2"/><path stroke="#e83840" d="M430 172h1"/><path stroke="#e4343c" d="M431 172h1"/><path stroke="#e83440" d="M432 172h1"/><path stroke="#e83c44" d="M433 172h1"/><path stroke="#e84044" d="M434 172h4"/><path stroke="#e84448" d="M438 172h1"/><path stroke="#e84444" d="M439 172h1"/><path stroke="#e84848" d="M440 172h2"/><path stroke="#e84c4c" d="M442 172h1"/><path stroke="#e8504c" d="M443 172h1"/><path stroke="#ec5450" d="M444 172h2"/><path stroke="#ec5050" d="M446 172h1"/><path stroke="#ec5854" d="M447 172h1"/><path stroke="#ec6058" d="M448 172h1"/><path stroke="#ec5c58" d="M449 172h1"/><path stroke="#ec685c" d="M450 172h1"/><path stroke="#ec645c" d="M451 172h1"/><path stroke="#ec6c60" d="M452 172h2"/><path stroke="#f07064" d="M454 172h1m1 0h2"/><path stroke="#f07464" d="M455 172h1"/><path stroke="#f07c6c" d="M458 172h1m1 0h2"/><path stroke="#f08070" d="M459 172h1"/><path stroke="#f08474" d="M462 172h2"/><path stroke="#f08470" d="M464 172h1"/><path stroke="#f48878" d="M465 172h1"/><path stroke="#f08878" d="M466 172h1"/><path stroke="#f48c7c" d="M467 172h2"/><path stroke="#f49484" d="M469 172h1"/><path stroke="#f49884" d="M470 172h1"/><path stroke="#f49c88" d="M471 172h1m1 0h1"/><path stroke="#f4a08c" d="M472 172h1"/><path stroke="#f4a090" d="M474 172h2"/><path stroke="#f8a494" d="M476 172h1"/><path stroke="#f8a894" d="M477 172h3"/><path stroke="#f8a898" d="M480 172h1"/><path stroke="#f8ac98" d="M481 172h1"/><path stroke="#f8b4a4" d="M482 172h1"/><path stroke="#f8b4a0" d="M483 172h2"/><path stroke="#f8bca8" d="M485 172h1"/><path stroke="#f8b8a8" d="M486 172h1"/><path stroke="#f8c0ac" d="M487 172h1"/><path stroke="#f8c0b0" d="M488 172h2"/><path stroke="#fce8e0" d="M490 172h1"/></g><g stroke-width="12" fill="none"><path stroke="#f8c0c8" d="M341 184h1"/><path stroke="#e42438" d="M342 184h5m1 0h2m1 0h1m2 0h1m2 0h1m2 0h6m2 0h3m1 0h13m1 0h10m3 0h1m2 0h1m3 0h3m1 0h6m2 0h5m1 0h2m5 0h3m1 0h2m2 0h5m1 0h3m1 0h1m1 0h1"/><path stroke="#f4a8b0" d="M347 184h1m2 0h1"/><path stroke="#ec5458" d="M352 184h1"/><path stroke="#e83c48" d="M353 184h1"/><path stroke="#ec7884" d="M355 184h1"/><path stroke="#fcd8dc" d="M356 184h1"/><path stroke="#fcf8f8" d="M358 184h1"/><path stroke="#fce0e0" d="M359 184h1"/><path stroke="#ec5c5c" d="M366 184h1m63 0h1"/><path stroke="#e42c3c" d="M367 184h1m29 0h1"/><path stroke="#e42038" d="M371 184h1m37 0h1m13 0h1m20 0h1m3 0h1m1 0h1"/><path stroke="#ec5454" d="M385 184h1m15 0h1"/><path stroke="#f07470" d="M396 184h1"/><path stroke="#ec6060" d="M398 184h1"/><path stroke="#e42838" d="M400 184h1m2 0h1m25 0h1m4 0h1m17 0h2"/><path stroke="#f8c0b0" d="M404 184h1"/><path stroke="#e8404c" d="M405 184h1"/><path stroke="#f8aca0" d="M416 184h1"/><path stroke="#e84048" d="M417 184h1"/><path stroke="#ec5858" d="M426 184h1"/><path stroke="#f08890" d="M427 184h1"/><path stroke="#e84454" d="M428 184h1"/><path stroke="#ec6860" d="M437 184h1"/><path stroke="#e84c50" d="M438 184h1"/><path stroke="#ec5c68" d="M454 184h1"/><path stroke="#f09090" d="M455 184h1"/><path stroke="#f8bcb8" d="M456 184h1"/><path stroke="#ec504c" d="M457 184h1"/><path stroke="#ec6058" d="M458 184h1"/><path stroke="#ec5854" d="M459 184h1m1 0h1"/><path stroke="#ec685c" d="M460 184h1"/><path stroke="#f08880" d="M462 184h1"/><path stroke="#fcc8b8" d="M463 184h1"/><path stroke="#f08074" d="M464 184h1"/><path stroke="#f08070" d="M465 184h1"/><path stroke="#f49c8c" d="M466 184h1"/><path stroke="#f4aca4" d="M467 184h1"/><path stroke="#f8c8c4" d="M468 184h1"/><path stroke="#f08878" d="M469 184h1"/><path stroke="#f08474" d="M470 184h1m2 0h2"/><path stroke="#f07c6c" d="M471 184h2"/><path stroke="#f48c78" d="M475 184h1"/><path stroke="#f8b0a0" d="M476 184h1"/><path stroke="#f8b4a0" d="M477 184h1m10 0h1"/><path stroke="#f49888" d="M478 184h1"/><path stroke="#f48c7c" d="M479 184h1"/><path stroke="#f4a490" d="M480 184h1m4 0h1"/><path stroke="#f49480" d="M481 184h1"/><path stroke="#f8a894" d="M482 184h1"/><path stroke="#f49884" d="M483 184h1"/><path stroke="#f8ac98" d="M484 184h1m1 0h1"/><path stroke="#f8ac9c" d="M487 184h1"/><path stroke="#f8bcb0" d="M489 184h1"/><path stroke="#fcd8cc" d="M490 184h1"/><path stroke="#f8b8a8" d="M491 184h1m2 0h1"/><path stroke="#f8b8a4" d="M492 184h2m1 0h3m1 0h1"/><path stroke="#f8b4a4" d="M498 184h1"/><path stroke="#fff8f8" d="M500 184h1"/></g><g stroke-width="12" fill="none"><path stroke="#fff4f4" d="M339 196h1m158 0h1"/><path stroke="#f49888" d="M340 196h1"/><path stroke="#f08474" d="M341 196h1m11 0h1"/><path stroke="#f48c78" d="M342 196h1"/><path stroke="#ec5858" d="M343 196h1m25 0h1"/><path stroke="#e42438" d="M344 196h2m25 0h2m8 0h2"/><path stroke="#ec6c74" d="M346 196h1m49 0h1"/><path stroke="#f07c70" d="M347 196h1"/><path stroke="#f07468" d="M348 196h1m101 0h1m1 0h2"/><path stroke="#f8a89c" d="M349 196h1"/><path stroke="#f8c0b0" d="M350 196h1m135 0h1"/><path stroke="#f8b8a4" d="M351 196h1m148 0h1"/><path stroke="#f8b8a8" d="M352 196h1m33 0h1m88 0h1m14 0h1m1 0h1"/><path stroke="#f8ccc4" d="M354 196h1m107 0h1"/><path stroke="#e42c3c" d="M358 196h1m17 0h1m1 0h1m12 0h1m1 0h1"/><path stroke="#e84454" d="M359 196h1"/><path stroke="#e83848" d="M361 196h1"/><path stroke="#e42838" d="M362 196h2m9 0h1m1 0h1"/><path stroke="#fcd0c8" d="M364 196h1m1 0h1"/><path stroke="#f0787c" d="M365 196h1"/><path stroke="#f8c4c8" d="M367 196h1"/><path stroke="#e43040" d="M368 196h1"/><path stroke="#f0746c" d="M370 196h1m77 0h1"/><path stroke="#f4acb0" d="M374 196h1m2 0h1"/><path stroke="#f4b0b4" d="M379 196h1"/><path stroke="#e4343c" d="M380 196h1m2 0h1m21 0h1"/><path stroke="#e4303c" d="M384 196h1m5 0h1m11 0h1m1 0h1m7 0h1"/><path stroke="#f8c4c4" d="M385 196h1"/><path stroke="#ec6c70" d="M388 196h1"/><path stroke="#e83840" d="M389 196h1m23 0h1m5 0h1"/><path stroke="#e42c38" d="M392 196h1"/><path stroke="#e84450" d="M394 196h1"/><path stroke="#f4a0a4" d="M395 196h1"/><path stroke="#ec6c78" d="M397 196h1"/><path stroke="#f09098" d="M398 196h1"/><path stroke="#e84c58" d="M399 196h1"/><path stroke="#e84048" d="M400 196h1m38 0h1"/><path stroke="#f4a4ac" d="M401 196h1"/><path stroke="#f07470" d="M403 196h1"/><path stroke="#e43440" d="M406 196h1m9 0h1m3 0h1"/><path stroke="#ec6464" d="M407 196h1"/><path stroke="#fce0d8" d="M408 196h1"/><path stroke="#f06c68" d="M409 196h1"/><path stroke="#ec6c68" d="M410 196h1"/><path stroke="#e84c54" d="M411 196h1"/><path stroke="#e84c50" d="M414 196h1"/><path stroke="#ec6c6c" d="M415 196h1"/><path stroke="#f8c8cc" d="M417 196h1"/><path stroke="#f4989c" d="M418 196h1"/><path stroke="#e84444" d="M421 196h1"/><path stroke="#e83c44" d="M422 196h1m3 0h1m5 0h1m1 0h1"/><path stroke="#e84044" d="M423 196h1"/><path stroke="#ec6c64" d="M424 196h1m8 0h1"/><path stroke="#ec5050" d="M425 196h1"/><path stroke="#f07870" d="M427 196h2"/><path stroke="#e8484c" d="M429 196h1"/><path stroke="#f4a8ac" d="M430 196h1"/><path stroke="#e84448" d="M431 196h1"/><path stroke="#f07c74" d="M435 196h1"/><path stroke="#fce8e0" d="M436 196h1"/><path stroke="#ec5c5c" d="M437 196h1"/><path stroke="#f4b0b0" d="M438 196h1"/><path stroke="#f07070" d="M440 196h1"/><path stroke="#f4b0a8" d="M441 196h1"/><path stroke="#f4aca0" d="M442 196h1m34 0h1"/><path stroke="#f49c98" d="M443 196h1"/><path stroke="#f8b4ac" d="M444 196h1"/><path stroke="#fcf4f4" d="M445 196h1"/><path stroke="#fcd8cc" d="M446 196h1"/><path stroke="#f4a898" d="M447 196h1"/><path stroke="#f8c0bc" d="M449 196h1"/><path stroke="#f08070" d="M451 196h1m5 0h3"/><path stroke="#ec6c60" d="M454 196h1"/><path stroke="#f8c4c0" d="M455 196h1"/><path stroke="#f49080" d="M456 196h1"/><path stroke="#fce8e4" d="M460 196h1"/><path stroke="#fcd4c8" d="M461 196h1"/><path stroke="#f4907c" d="M463 196h1"/><path stroke="#f49884" d="M464 196h1m20 0h1"/><path stroke="#f8b0a8" d="M466 196h1"/><path stroke="#f8c8bc" d="M467 196h1m13 0h1"/><path stroke="#fffcf8" d="M468 196h1"/><path stroke="#fcf0ec" d="M469 196h1m4 0h1m20 0h1"/><path stroke="#f49c88" d="M470 196h1"/><path stroke="#fcd8d0" d="M471 196h1m16 0h1m13 0h1"/><path stroke="#f49c8c" d="M472 196h1"/><path stroke="#f8c8c0" d="M476 196h1"/><path stroke="#f8b8ac" d="M478 196h1"/><path stroke="#f8ccc0" d="M479 196h1"/><path stroke="#f8bcb0" d="M480 196h1"/><path stroke="#f8b4a4" d="M482 196h1"/><path stroke="#f8b0a0" d="M483 196h2"/><path stroke="#f4a490" d="M487 196h1"/><path stroke="#fcf4f0" d="M489 196h1"/><path stroke="#f8b09c" d="M491 196h1m1 0h1"/><path stroke="#f8b4a0" d="M494 196h1m6 0h1"/><path stroke="#fcd0c4" d="M496 196h1"/><path stroke="#fff8f8" d="M497 196h1"/><path stroke="#f8c0ac" d="M499 196h1"/></g><g stroke-width="12" fill="none"><path stroke="#fce0dc" d="M341 208h1"/><path stroke="#fcd4cc" d="M342 208h1m115 0h1m5 0h1"/><path stroke="#f49c8c" d="M343 208h1m2 0h1m128 0h1"/><path stroke="#f4a08c" d="M344 208h1m120 0h1m4 0h2m1 0h1"/><path stroke="#f49080" d="M345 208h1"/><path stroke="#f8bcbc" d="M347 208h1m101 0h1"/><path stroke="#e42038" d="M348 208h1m17 0h1m2 0h1"/><path stroke="#e42438" d="M349 208h1m10 0h1m3 0h2m1 0h1m5 0h1m11 0h2"/><path stroke="#f8d8dc" d="M350 208h1"/><path stroke="#e85460" d="M353 208h1"/><path stroke="#f4a8ac" d="M354 208h1"/><path stroke="#fce0e0" d="M359 208h1"/><path stroke="#ec605c" d="M361 208h1"/><path stroke="#e42c38" d="M362 208h1m18 0h1"/><path stroke="#e42838" d="M363 208h1m4 0h1m11 0h1m1 0h1m6 0h2"/><path stroke="#ec6470" d="M370 208h1"/><path stroke="#fcd8d0" d="M371 208h1m106 0h1m6 0h1"/><path stroke="#f49ca4" d="M372 208h1"/><path stroke="#e43440" d="M374 208h1m48 0h1m18 0h1"/><path stroke="#f07c7c" d="M375 208h1m61 0h1"/><path stroke="#f8c4c0" d="M376 208h1"/><path stroke="#ec585c" d="M377 208h1"/><path stroke="#f8bcb4" d="M378 208h1"/><path stroke="#e84c5c" d="M379 208h1"/><path stroke="#e4303c" d="M383 208h2m22 0h1m4 0h1"/><path stroke="#f4a8b0" d="M387 208h1"/><path stroke="#ec6464" d="M388 208h1m5 0h1"/><path stroke="#f8b8bc" d="M391 208h1"/><path stroke="#ec6864" d="M392 208h1"/><path stroke="#ec5458" d="M393 208h1"/><path stroke="#f07878" d="M395 208h1"/><path stroke="#e42c3c" d="M396 208h1m4 0h1m6 0h2"/><path stroke="#f4acb0" d="M397 208h1"/><path stroke="#f08c94" d="M398 208h1m28 0h1"/><path stroke="#f8c8cc" d="M399 208h1"/><path stroke="#f07c78" d="M400 208h1"/><path stroke="#fcdce0" d="M402 208h1"/><path stroke="#f08c90" d="M404 208h1"/><path stroke="#f0888c" d="M405 208h1m27 0h1m2 0h1"/><path stroke="#f08088" d="M406 208h1"/><path stroke="#f07884" d="M410 208h1"/><path stroke="#ec686c" d="M411 208h1"/><path stroke="#e4343c" d="M413 208h1m29 0h1"/><path stroke="#f8c0c0" d="M414 208h1"/><path stroke="#f0746c" d="M415 208h1"/><path stroke="#f07870" d="M416 208h1"/><path stroke="#f4acb4" d="M417 208h1m2 0h1"/><path stroke="#f4a4a4" d="M418 208h1"/><path stroke="#e8404c" d="M419 208h1"/><path stroke="#f49ca0" d="M421 208h1"/><path stroke="#e85054" d="M422 208h1"/><path stroke="#f06c68" d="M424 208h1"/><path stroke="#e84448" d="M425 208h1"/><path stroke="#e83c40" d="M426 208h1m8 0h1m5 0h1"/><path stroke="#ec5c60" d="M428 208h1"/><path stroke="#f4b4b4" d="M429 208h1"/><path stroke="#f07064" d="M430 208h1"/><path stroke="#ec6c70" d="M431 208h1"/><path stroke="#f0848c" d="M432 208h1"/><path stroke="#ec5c64" d="M434 208h1"/><path stroke="#f07c74" d="M438 208h1"/><path stroke="#f08488" d="M439 208h1"/><path stroke="#fce0e4" d="M440 208h1"/><path stroke="#e83c44" d="M444 208h1m1 0h1"/><path stroke="#e84044" d="M445 208h1"/><path stroke="#e84444" d="M447 208h1m3 0h1"/><path stroke="#f0887c" d="M448 208h1"/><path stroke="#f07068" d="M450 208h1"/><path stroke="#f8b8b8" d="M452 208h1"/><path stroke="#f49c9c" d="M453 208h1"/><path stroke="#ec6468" d="M454 208h1"/><path stroke="#f07868" d="M455 208h1m1 0h1"/><path stroke="#f4988c" d="M456 208h1m9 0h1"/><path stroke="#fcd0cc" d="M459 208h1"/><path stroke="#fcece8" d="M460 208h1"/><path stroke="#f08878" d="M462 208h1"/><path stroke="#f8d0c8" d="M463 208h1"/><path stroke="#f8c4b8" d="M467 208h1"/><path stroke="#fff8f8" d="M468 208h1"/><path stroke="#fcd0c4" d="M469 208h1m22 0h1"/><path stroke="#fcdcd4" d="M472 208h1"/><path stroke="#f4a490" d="M474 208h1"/><path stroke="#fce4dc" d="M477 208h1m2 0h1m12 0h1"/><path stroke="#f8b0a0" d="M479 208h1"/><path stroke="#f8ac9c" d="M481 208h1"/><path stroke="#fce0d8" d="M482 208h1m5 0h1"/><path stroke="#fcdcd8" d="M483 208h1"/><path stroke="#f8a894" d="M484 208h1m1 0h1"/><path stroke="#f8b09c" d="M487 208h1"/><path stroke="#f8ac98" d="M489 208h1"/><path stroke="#f8c0ac" d="M490 208h1"/></g><g stroke-width="12" fill="none"><path stroke="#ec6474" d="M339 224h1"/><path stroke="#e42438" d="M340 224h1"/><path stroke="#fce4e8" d="M341 224h1"/></g><g stroke-width="12" fill="none"><path stroke="#f498a0" d="M340 236h1"/><path stroke="#e4303c" d="M341 236h1"/><path stroke="#f08880" d="M342 236h1"/><path stroke="#f8b4a0" d="M343 236h4"/><path stroke="#f8b4a4" d="M347 236h2m1 0h1"/><path stroke="#f8b8a4" d="M349 236h1m1 0h1"/><path stroke="#f8bca8" d="M352 236h1m1 0h2"/><path stroke="#f8b8a8" d="M353 236h1"/><path stroke="#f8bcac" d="M356 236h2"/></g><g stroke-width="12" fill="none"><path stroke="#fcdcd4" d="M357 248h1"/><path stroke="#fcd8cc" d="M358 248h1"/></g><g stroke-width="12" fill="none"><path stroke="#ec6c64" d="M358 260h1"/><path stroke="#f07c74" d="M359 260h1"/></g><rect x="339.30" y="165.50" width="163.20" height="100.70" fill="none" stroke="#2b2b2b" stroke-width="1"/><path d="M339.30 171.55h-1.6" stroke="#333" stroke-width="0.7"/><path d="M339.30 183.65h-1.6" stroke="#333" stroke-width="0.7"/><path d="M339.30 195.75h-1.6" stroke="#333" stroke-width="0.7"/><path d="M339.30 207.85h-1.6" stroke="#333" stroke-width="0.7"/><path d="M339.30 224.03h-1.6" stroke="#333" stroke-width="0.7"/><path d="M339.30 236.07h-1.6" stroke="#333" stroke-width="0.7"/><path d="M339.30 248.12h-1.6" stroke="#333" stroke-width="0.7"/><path d="M339.30 260.17h-1.6" stroke="#333" stroke-width="0.7"/><path d="M339.70 165.50v-1.6" stroke="#333" stroke-width="0.7"/><path d="M369.82 165.50v-1.6" stroke="#333" stroke-width="0.7"/><path d="M399.95 165.50v-1.6" stroke="#333" stroke-width="0.7"/><path d="M430.07 165.50v-1.6" stroke="#333" stroke-width="0.7"/><path d="M460.20 165.50v-1.6" stroke="#333" stroke-width="0.7"/><path d="M490.32 165.50v-1.6" stroke="#333" stroke-width="0.7"/><text x="339.70" y="161.20" text-anchor="middle">1</text><text x="369.82" y="161.20" text-anchor="middle">51</text><text x="399.95" y="161.20" text-anchor="middle">101</text><text x="430.07" y="161.20" text-anchor="middle">151</text><text x="460.20" y="161.20" text-anchor="middle">201</text><text x="490.32" y="161.20" text-anchor="middle">251</text><text x="506.00" y="161.20">Total=270</text><text x="506.60" y="175.20">n=238</text><text x="506.60" y="187.40">n=231</text><text x="506.60" y="199.30">n=177</text><text x="506.60" y="211.30">n=174</text><text x="506.60" y="227.60">n=3</text><text x="506.60" y="239.50">n=29</text><text x="506.60" y="251.70">n=1</text><text x="506.60" y="263.70">n=2</text><g stroke-width="13" fill="none"><path stroke="#80d0f0" d="M339 276.5h1"/><path stroke="#70c0c4" d="M340 276.5h1m80 0h1"/><path stroke="#e8cc60" d="M341 276.5h1"/><path stroke="#a4b054" d="M342 276.5h1"/><path stroke="#f4e870" d="M343 276.5h1m100 0h1m46 0h1"/><path stroke="#d4a844" d="M344 276.5h1"/><path stroke="#74bc6c" d="M345 276.5h1"/><path stroke="#ccdc84" d="M346 276.5h1m54 0h1"/><path stroke="#e4d064" d="M347 276.5h1"/><path stroke="#b8b474" d="M348 276.5h1"/><path stroke="#98cca4" d="M349 276.5h1m1 0h1m3 0h1m2 0h1m1 0h1m7 0h1m1 0h1m1 0h1m12 0h1m6 0h1m3 0h1m6 0h2m17 0h1m3 0h1m9 0h1m5 0h1m8 0h1m23 0h1m18 0h1m5 0h2"/><path stroke="#98c8a0" d="M350 276.5h1m1 0h1m4 0h1m11 0h1m8 0h1m7 0h1m6 0h1m8 0h1m10 0h1m13 0h1m31 0h1m16 0h1m10 0h1m11 0h1"/><path stroke="#80b88c" d="M353 276.5h1"/><path stroke="#64a478" d="M354 276.5h1"/><path stroke="#8ca494" d="M356 276.5h1m2 0h1"/><path stroke="#7cc4b8" d="M361 276.5h1"/><path stroke="#4cb8e8" d="M362 276.5h1m3 0h1m22 0h1m19 0h1m38 0h1m12 0h1m1 0h1m2 0h2"/><path stroke="#34948c" d="M363 276.5h1"/><path stroke="#448c5c" d="M364 276.5h1"/><path stroke="#90c8a8" d="M365 276.5h1m54 0h1m76 0h1"/><path stroke="#60c0d4" d="M367 276.5h1"/><path stroke="#c06c5c" d="M371 276.5h1"/><path stroke="#acd094" d="M373 276.5h1m54 0h1"/><path stroke="#f4e46c" d="M374 276.5h1"/><path stroke="#e48048" d="M375 276.5h1"/><path stroke="#68c4d4" d="M376 276.5h1"/><path stroke="#4cbce8" d="M377 276.5h1m3 0h1m26 0h1m6 0h1m31 0h1m1 0h1m12 0h1m1 0h1m3 0h1m3 0h1m5 0h1m6 0h1m3 0h1m6 0h1"/><path stroke="#94bc9c" d="M379 276.5h1"/><path stroke="#64a4c0" d="M380 276.5h1"/><path stroke="#98bc9c" d="M382 276.5h1"/><path stroke="#f4c450" d="M383 276.5h1"/><path stroke="#6cc0cc" d="M384 276.5h1"/><path stroke="#50bce4" d="M387 276.5h1"/><path stroke="#b0d8a0" d="M388 276.5h1m101 0h1"/><path stroke="#688040" d="M390 276.5h1"/><path stroke="#84b0a8" d="M391 276.5h1"/><path stroke="#64c0c8" d="M394 276.5h1"/><path stroke="#80c084" d="M395 276.5h1"/><path stroke="#c8dc88" d="M397 276.5h1"/><path stroke="#68a4bc" d="M398 276.5h1"/><path stroke="#809480" d="M399 276.5h1"/><path stroke="#60bcb8" d="M400 276.5h1"/><path stroke="#a8d098" d="M405 276.5h1"/><path stroke="#f4e86c" d="M406 276.5h1"/><path stroke="#60b89c" d="M407 276.5h1"/><path stroke="#58b8b8" d="M410 276.5h1"/><path stroke="#c4d070" d="M411 276.5h1"/><path stroke="#90ac98" d="M412 276.5h1"/><path stroke="#c4a464" d="M414 276.5h1"/><path stroke="#b0d494" d="M416 276.5h1"/><path stroke="#e8e070" d="M417 276.5h1"/><path stroke="#b45858" d="M418 276.5h1"/><path stroke="#d4d078" d="M419 276.5h1"/><path stroke="#d8ac54" d="M423 276.5h1"/><path stroke="#f4ec70" d="M424 276.5h1m28 0h1"/><path stroke="#dce07c" d="M425 276.5h1"/><path stroke="#b8d48c" d="M429 276.5h1"/><path stroke="#70b868" d="M430 276.5h1"/><path stroke="#50b8d0" d="M431 276.5h1"/><path stroke="#b4d89c" d="M432 276.5h1m25 0h1"/><path stroke="#b4b07c" d="M433 276.5h1"/><path stroke="#6cc4d0" d="M434 276.5h1"/><path stroke="#78c4c0" d="M435 276.5h1m52 0h1"/><path stroke="#e0e478" d="M437 276.5h1"/><path stroke="#f4b848" d="M438 276.5h1"/><path stroke="#d4a854" d="M439 276.5h1"/><path stroke="#a4d09c" d="M440 276.5h1m13 0h1"/><path stroke="#c0d88c" d="M441 276.5h1"/><path stroke="#58985c" d="M443 276.5h1"/><path stroke="#9c9058" d="M445 276.5h1"/><path stroke="#dcb068" d="M446 276.5h1"/><path stroke="#70c0c8" d="M450 276.5h1m28 0h1"/><path stroke="#9ccca0" d="M452 276.5h1"/><path stroke="#94c8a0" d="M455 276.5h1"/><path stroke="#4c9854" d="M456 276.5h1"/><path stroke="#288060" d="M457 276.5h1"/><path stroke="#c0dc90" d="M460 276.5h1m25 0h1"/><path stroke="#a06478" d="M465 276.5h1"/><path stroke="#68b090" d="M469 276.5h1"/><path stroke="#c0bc7c" d="M470 276.5h1"/><path stroke="#58bce0" d="M471 276.5h1"/><path stroke="#349490" d="M473 276.5h1"/><path stroke="#8cc098" d="M474 276.5h1"/><path stroke="#54bce0" d="M477 276.5h1"/><path stroke="#74bc70" d="M480 276.5h1"/><path stroke="#b86844" d="M481 276.5h1"/><path stroke="#c4c078" d="M482 276.5h1"/><path stroke="#8c9890" d="M483 276.5h1"/><path stroke="#8ca094" d="M484 276.5h1"/><path stroke="#909874" d="M492 276.5h1"/><path stroke="#60a474" d="M493 276.5h1"/><path stroke="#8cc8ac" d="M495 276.5h1"/><path stroke="#68c0cc" d="M498 276.5h1"/><path stroke="#cce4d0" d="M502 276.5h1"/></g><rect x="339.30" y="269.80" width="163.20" height="12.80" fill="none" stroke="#333" stroke-width="1.1"/><text x="506.60" y="279.30">n=8/8</text><g stroke-width="12" fill="none"><path stroke="#d8e0f0" d="M214 324h1"/><path stroke="#3464a8" d="M215 324h17"/><path stroke="#a4b4dc" d="M232 324h1"/><path stroke="#bcc8e4" d="M233 324h2"/><path stroke="#c0c8e4" d="M235 324h3"/><path stroke="#c0cce4" d="M238 324h3"/><path stroke="#c4cce8" d="M241 324h5"/><path stroke="#c4d0e8" d="M246 324h1"/><path stroke="#c8d0e8" d="M247 324h6"/><path stroke="#ccd4e8" d="M253 324h3"/><path stroke="#ccd4ec" d="M256 324h2"/><path stroke="#f4f4f8" d="M258 324h1"/></g><g stroke-width="12" fill="none"><path stroke="#d8e0f0" d="M214 336h1"/><path stroke="#3464a8" d="M215 336h2m4 0h11"/><path stroke="#7094c4" d="M217 336h1"/><path stroke="#acc0dc" d="M220 336h1"/><path stroke="#a8b8dc" d="M232 336h1m34 0h3"/><path stroke="#c0c8e4" d="M233 336h4m4 0h11m33 0h2"/><path stroke="#c4cce8" d="M237 336h1m52 0h3"/><path stroke="#f8f8fc" d="M240 336h1"/><path stroke="#e4e8f4" d="M252 336h1"/><path stroke="#8ca0d0" d="M258 336h1"/><path stroke="#6880c0" d="M259 336h2"/><path stroke="#7088c4" d="M261 336h3"/><path stroke="#8094cc" d="M264 336h1"/><path stroke="#8098cc" d="M265 336h1"/><path stroke="#8498cc" d="M266 336h1"/><path stroke="#acb8dc" d="M270 336h2"/><path stroke="#acbce0" d="M272 336h1"/><path stroke="#b0bce0" d="M273 336h2"/><path stroke="#b4c0e0" d="M275 336h4"/><path stroke="#b8c4e4" d="M279 336h3"/><path stroke="#bcc4e4" d="M282 336h2"/><path stroke="#bcc8e4" d="M284 336h1"/><path stroke="#c0cce4" d="M287 336h3"/><path stroke="#c8d0e8" d="M293 336h2"/><path stroke="#ccd4ec" d="M295 336h1"/></g><rect x="214.80" y="302.30" width="81.10" height="40.10" fill="none" stroke="#2b2b2b" stroke-width="1"/><path d="M214.80 308.40h-1.6" stroke="#333" stroke-width="0.7"/><path d="M214.80 323.95h-1.6" stroke="#333" stroke-width="0.7"/><path d="M214.80 336.25h-1.6" stroke="#333" stroke-width="0.7"/><path d="M216.25 302.30v-1.6" stroke="#333" stroke-width="0.7"/><path d="M245.21 302.30v-1.6" stroke="#333" stroke-width="0.7"/><path d="M274.18 302.30v-1.6" stroke="#333" stroke-width="0.7"/><text x="216.25" y="298.50" text-anchor="middle">1</text><text x="245.21" y="298.50" text-anchor="middle">11</text><text x="274.18" y="298.50" text-anchor="middle">21</text><text x="299.70" y="298.40">Total=28</text><text x="299.70" y="311.40">n=0</text><text x="299.70" y="325.60">n=15</text><text x="299.70" y="337.80">n=24</text><text x="210.00" y="309.70" text-anchor="end">SARS-CoV-2 Anc.</text><text x="210.50" y="323.90" text-anchor="end">HKU1</text><text x="210.50" y="336.40" text-anchor="end">OC43</text><path d="M188.90 316.30V339.60" stroke="#555" stroke-width="0.9"/><text x="186.00" y="331.10" text-anchor="end">sHCoV</text><text x="108.90" y="329.70" font-weight="bold" font-size="12.5">S2</text><text x="211.00" y="354.20" font-weight="bold" text-anchor="end" font-size="7.1">Donor ID</text><g stroke-width="11" fill="none"><path stroke="#fcece8" d="M214 352.5h1"/><path stroke="#f0a484" d="M215 352.5h2m10 0h2m9 0h2m16 0h5m18 0h2m7 0h2"/><path stroke="#e4a498" d="M217 352.5h1"/><path stroke="#c8a8cc" d="M218 352.5h5m24 0h2m15 0h2"/><path stroke="#e0c4b8" d="M223 352.5h1"/><path stroke="#f8e0a8" d="M224 352.5h2m41 0h5m4 0h2m4 0h2"/><path stroke="#f4bc90" d="M226 352.5h1"/><path stroke="#90acc8" d="M229 352.5h1"/><path stroke="#6cb0e0" d="M230 352.5h5m9 0h2m27 0h2m10 0h2m6 0h2"/><path stroke="#bce0f0" d="M235 352.5h1"/><path stroke="#c4e4f0" d="M236 352.5h1m4 0h2m7 0h2m39 0h2"/><path stroke="#c4e4ec" d="M237 352.5h1"/><path stroke="#ecac94" d="M240 352.5h1"/><path stroke="#b0d8ec" d="M243 352.5h1"/><path stroke="#8cacd8" d="M246 352.5h1"/><path stroke="#c4c4dc" d="M249 352.5h1"/><path stroke="#e0d4e4" d="M252 352.5h1"/><path stroke="#f4c8d8" d="M253 352.5h2m7 0h2"/><path stroke="#f4b0a0" d="M255 352.5h1"/><path stroke="#f4c4cc" d="M261 352.5h1"/><path stroke="#c8acc8" d="M266 352.5h1"/><path stroke="#d0d0b8" d="M272 352.5h1"/><path stroke="#a0c0cc" d="M275 352.5h1"/><path stroke="#f4c498" d="M278 352.5h1m2 0h1"/><path stroke="#98bcd0" d="M284 352.5h1"/><path stroke="#d4a898" d="M287 352.5h1"/><path stroke="#c8dce4" d="M290 352.5h1"/><path stroke="#7cb8e4" d="M295 352.5h1"/></g><rect x="214.80" y="346.60" width="81.10" height="11.70" fill="none" stroke="#333" stroke-width="1.1"/><text x="299.70" y="353.40">n=6/8</text><g stroke-width="12" fill="none"><path stroke="#f8cccc" d="M341 307h1"/><path stroke="#e84848" d="M342 307h2m63 0h1"/><path stroke="#f07474" d="M344 307h1m12 0h1"/><path stroke="#e43440" d="M349 307h1m53 0h1"/><path stroke="#f8c4c4" d="M350 307h1"/><path stroke="#f8b4a0" d="M351 307h2m100 0h7m5 0h1"/><path stroke="#e84c54" d="M353 307h1"/><path stroke="#f08080" d="M354 307h1"/><path stroke="#e43444" d="M355 307h1"/><path stroke="#f07c74" d="M356 307h1"/><path stroke="#e42438" d="M358 307h1m19 0h1m1 0h3m1 0h10m1 0h3m1 0h1"/><path stroke="#e42838" d="M359 307h2m1 0h1m31 0h1m5 0h1"/><path stroke="#ec6864" d="M361 307h1"/><path stroke="#ec6468" d="M363 307h1"/><path stroke="#e8404c" d="M364 307h1"/><path stroke="#e42034" d="M365 307h2m12 0h1m18 0h1"/><path stroke="#e83c48" d="M367 307h1"/><path stroke="#f8bcac" d="M368 307h2m104 0h4m1 0h2m1 0h1m2 0h1"/><path stroke="#f0887c" d="M370 307h1"/><path stroke="#f0706c" d="M371 307h1"/><path stroke="#e84c4c" d="M372 307h1"/><path stroke="#e8484c" d="M373 307h1"/><path stroke="#ec5450" d="M374 307h1m34 0h1"/><path stroke="#e84448" d="M375 307h1m1 0h1"/><path stroke="#ec5854" d="M376 307h1"/><path stroke="#e42038" d="M383 307h1"/><path stroke="#e42c3c" d="M401 307h1"/><path stroke="#e4303c" d="M402 307h1"/><path stroke="#e83c44" d="M404 307h1"/><path stroke="#e84044" d="M405 307h2"/><path stroke="#ec5850" d="M408 307h1"/><path stroke="#ec6058" d="M410 307h1"/><path stroke="#ec6860" d="M411 307h1"/><path stroke="#ec6c60" d="M412 307h1"/><path stroke="#f07064" d="M413 307h1"/><path stroke="#f07468" d="M414 307h1"/><path stroke="#f07c6c" d="M415 307h3"/><path stroke="#f08474" d="M418 307h1m2 0h1"/><path stroke="#f08874" d="M419 307h1m3 0h1"/><path stroke="#f08470" d="M420 307h1"/><path stroke="#f08878" d="M422 307h1m2 0h1"/><path stroke="#f48c78" d="M424 307h1"/><path stroke="#f49080" d="M426 307h1"/><path stroke="#f48c7c" d="M427 307h1"/><path stroke="#f49484" d="M428 307h1"/><path stroke="#f49480" d="M429 307h2"/><path stroke="#f49884" d="M431 307h1"/><path stroke="#f49c88" d="M432 307h1m1 0h1"/><path stroke="#f49888" d="M433 307h1"/><path stroke="#f4a08c" d="M435 307h3"/><path stroke="#f4a490" d="M438 307h1m1 0h2"/><path stroke="#f49c8c" d="M439 307h1"/><path stroke="#f8a494" d="M442 307h1"/><path stroke="#f8a894" d="M443 307h2"/><path stroke="#f8a898" d="M445 307h1"/><path stroke="#f8ac98" d="M446 307h1"/><path stroke="#f8b09c" d="M447 307h5"/><path stroke="#f8b0a0" d="M452 307h1"/><path stroke="#f8b8a4" d="M460 307h2m1 0h2m2 0h3"/><path stroke="#f8b4a4" d="M462 307h1m3 0h1"/><path stroke="#f8bca8" d="M470 307h1m2 0h1m4 0h1"/><path stroke="#f8b8a8" d="M471 307h2"/><path stroke="#f8c0ac" d="M481 307h1m1 0h1m2 0h1"/><path stroke="#f8c0b0" d="M484 307h1m2 0h1m1 0h2m2 0h1"/><path stroke="#f8c4b0" d="M488 307h1"/><path stroke="#f8c4b4" d="M491 307h2m1 0h5m2 0h1"/><path stroke="#fcc4b4" d="M499 307h1m2 0h3"/><path stroke="#fcc8b8" d="M500 307h1m4 0h2m1 0h3m2 0h1"/><path stroke="#fcccbc" d="M507 307h1m3 0h2m1 0h1m1 0h2"/><path stroke="#fcd0c0" d="M515 307h1"/><path stroke="#fcccc0" d="M518 307h2"/><path stroke="#fff4f0" d="M520 307h1"/></g><g stroke-width="12" fill="none"><path stroke="#ec6474" d="M339 323h1"/><path stroke="#e42034" d="M340 323h3"/><path stroke="#e42038" d="M343 323h1"/><path stroke="#e84450" d="M344 323h1"/><path stroke="#f8b8a4" d="M345 323h7"/></g><g stroke-width="12" fill="none"><path stroke="#ec6474" d="M339 335h1"/><path stroke="#ec5858" d="M340 335h1"/><path stroke="#f4907c" d="M341 335h3"/><path stroke="#e43440" d="M344 335h1"/><path stroke="#f4acb4" d="M345 335h1"/><path stroke="#e42438" d="M349 335h1"/><path stroke="#f8ccd0" d="M350 335h1"/><path stroke="#f08490" d="M351 335h1"/><path stroke="#e42034" d="M352 335h1"/><path stroke="#f49088" d="M353 335h1"/><path stroke="#f8b8a4" d="M354 335h1m4 0h2m3 0h1"/><path stroke="#f8b4a4" d="M355 335h1"/><path stroke="#f8b4a0" d="M356 335h2"/><path stroke="#f8b8a8" d="M358 335h1m3 0h1m3 0h2m2 0h2"/><path stroke="#f8bca8" d="M361 335h1m1 0h1m1 0h1m2 0h1"/><path stroke="#f8bcac" d="M369 335h1m4 0h2"/><path stroke="#f8c0ac" d="M372 335h2"/><path stroke="#f8c4b4" d="M376 335h1"/></g><rect x="339.30" y="301.10" width="180.90" height="40.00" fill="none" stroke="#2b2b2b" stroke-width="1"/><path d="M339.30 307.10h-1.6" stroke="#333" stroke-width="0.7"/><path d="M339.30 323.05h-1.6" stroke="#333" stroke-width="0.7"/><path d="M339.30 335.10h-1.6" stroke="#333" stroke-width="0.7"/><path d="M339.70 301.10v-1.6" stroke="#333" stroke-width="0.7"/><path d="M369.82 301.10v-1.6" stroke="#333" stroke-width="0.7"/><path d="M399.95 301.10v-1.6" stroke="#333" stroke-width="0.7"/><path d="M430.07 301.10v-1.6" stroke="#333" stroke-width="0.7"/><path d="M460.20 301.10v-1.6" stroke="#333" stroke-width="0.7"/><path d="M490.32 301.10v-1.6" stroke="#333" stroke-width="0.7"/><text x="339.70" y="296.40" text-anchor="middle">1</text><text x="369.82" y="296.40" text-anchor="middle">51</text><text x="399.95" y="296.40" text-anchor="middle">101</text><text x="430.07" y="296.40" text-anchor="middle">151</text><text x="460.20" y="296.40" text-anchor="middle">201</text><text x="490.32" y="296.40" text-anchor="middle">251</text><text x="522.90" y="297.20">Total=298</text><text x="522.90" y="309.40">n=282</text><text x="522.90" y="325.20">n=19</text><text x="522.90" y="337.30">n=59</text><g stroke-width="11" fill="none"><path stroke="#b4d8bc" d="M339 351.5h1"/><path stroke="#94c8a0" d="M340 351.5h3m18 0h2m3 0h1m8 0h2m2 0h1m2 0h1m4 0h1m3 0h1m15 0h1m7 0h2m9 0h2m3 0h2m5 0h1m1 0h2m9 0h1m10 0h1m38 0h1"/><path stroke="#b4846c" d="M343 351.5h1"/><path stroke="#f0cc64" d="M344 351.5h1"/><path stroke="#b8d490" d="M345 351.5h1"/><path stroke="#84c48c" d="M346 351.5h1"/><path stroke="#54b8d0" d="M347 351.5h1m138 0h1"/><path stroke="#4cb8e8" d="M348 351.5h1m4 0h1m18 0h1m28 0h2m2 0h1m66 0h1m15 0h1m1 0h1m14 0h1m4 0h1"/><path stroke="#a0cc6c" d="M349 351.5h1"/><path stroke="#f4e86c" d="M350 351.5h1m73 0h1m31 0h1m46 0h1m3 0h1"/><path stroke="#b8b47c" d="M351 351.5h1"/><path stroke="#7498a8" d="M352 351.5h1"/><path stroke="#74c4c4" d="M354 351.5h1m90 0h1m27 0h1"/><path stroke="#ece874" d="M355 351.5h1"/><path stroke="#f4e068" d="M356 351.5h1"/><path stroke="#8c8030" d="M357 351.5h1"/><path stroke="#64b064" d="M358 351.5h1"/><path stroke="#88c490" d="M359 351.5h1m104 0h1m50 0h1"/><path stroke="#98c8a0" d="M360 351.5h1m13 0h1m5 0h1m2 0h1m24 0h1m107 0h1"/><path stroke="#b4b07c" d="M363 351.5h1m148 0h1"/><path stroke="#f4a434" d="M364 351.5h1"/><path stroke="#bcb470" d="M365 351.5h1"/><path stroke="#dcc470" d="M367 351.5h1"/><path stroke="#e89850" d="M368 351.5h1"/><path stroke="#9ccca0" d="M369 351.5h1m16 0h1m121 0h1"/><path stroke="#dce07c" d="M370 351.5h1"/><path stroke="#9cd0b0" d="M371 351.5h1"/><path stroke="#54bce0" d="M373 351.5h1"/><path stroke="#90ac98" d="M377 351.5h1"/><path stroke="#8c9890" d="M378 351.5h1"/><path stroke="#d0dc84" d="M381 351.5h1"/><path stroke="#a8d098" d="M384 351.5h1"/><path stroke="#f4e870" d="M385 351.5h1m31 0h1m35 0h1"/><path stroke="#c8dc88" d="M388 351.5h1"/><path stroke="#d0cc78" d="M389 351.5h1m20 0h1"/><path stroke="#88908c" d="M390 351.5h1"/><path stroke="#2c7844" d="M392 351.5h1"/><path stroke="#2c783c" d="M393 351.5h1"/><path stroke="#a8d4a4" d="M394 351.5h1"/><path stroke="#8cc8ac" d="M395 351.5h1m113 0h1"/><path stroke="#90a490" d="M396 351.5h1"/><path stroke="#f4c450" d="M397 351.5h1"/><path stroke="#d89834" d="M398 351.5h1"/><path stroke="#88c48c" d="M399 351.5h1"/><path stroke="#78c4bc" d="M400 351.5h1"/><path stroke="#88ccbc" d="M403 351.5h1"/><path stroke="#78c8c8" d="M404 351.5h1"/><path stroke="#b86c60" d="M406 351.5h1"/><path stroke="#cccc7c" d="M409 351.5h1"/><path stroke="#a8d4a8" d="M411 351.5h1"/><path stroke="#709cac" d="M412 351.5h1"/><path stroke="#308c80" d="M413 351.5h1"/><path stroke="#6cc0cc" d="M414 351.5h1m104 0h1"/><path stroke="#8cc46c" d="M418 351.5h1"/><path stroke="#7c9c7c" d="M419 351.5h1m94 0h1"/><path stroke="#f0e870" d="M420 351.5h1"/><path stroke="#bccc84" d="M421 351.5h1"/><path stroke="#f49028" d="M422 351.5h1"/><path stroke="#e47044" d="M423 351.5h1"/><path stroke="#c4dc88" d="M425 351.5h1"/><path stroke="#70b868" d="M428 351.5h1"/><path stroke="#acc460" d="M429 351.5h1"/><path stroke="#a4bc5c" d="M430 351.5h1"/><path stroke="#d0a858" d="M433 351.5h2"/><path stroke="#e0e478" d="M435 351.5h1m16 0h1"/><path stroke="#94d0b4" d="M436 351.5h1m67 0h1"/><path stroke="#94c8a4" d="M437 351.5h1"/><path stroke="#80c084" d="M439 351.5h1"/><path stroke="#70c0c4" d="M442 351.5h1"/><path stroke="#7cc8c4" d="M443 351.5h1"/><path stroke="#ece870" d="M444 351.5h1"/><path stroke="#8cc47c" d="M446 351.5h1"/><path stroke="#b8d08c" d="M447 351.5h1"/><path stroke="#d83030" d="M448 351.5h1"/><path stroke="#f08028" d="M449 351.5h1"/><path stroke="#a4a850" d="M450 351.5h1"/><path stroke="#64bc98" d="M454 351.5h1"/><path stroke="#88a49c" d="M455 351.5h1"/><path stroke="#f4cc58" d="M457 351.5h1"/><path stroke="#a88c6c" d="M458 351.5h1"/><path stroke="#c0b87c" d="M459 351.5h1"/><path stroke="#d8e07c" d="M460 351.5h1"/><path stroke="#8ca094" d="M461 351.5h1"/><path stroke="#74bc70" d="M463 351.5h1"/><path stroke="#60a474" d="M465 351.5h1"/><path stroke="#7cb864" d="M466 351.5h1"/><path stroke="#8cccb8" d="M467 351.5h1"/><path stroke="#68c0cc" d="M468 351.5h1"/><path stroke="#88c8b0" d="M469 351.5h1"/><path stroke="#acd4a0" d="M470 351.5h1"/><path stroke="#50bce4" d="M471 351.5h1"/><path stroke="#90b498" d="M474 351.5h1"/><path stroke="#94b89c" d="M475 351.5h1"/><path stroke="#90a894" d="M476 351.5h1"/><path stroke="#b8d494" d="M477 351.5h1"/><path stroke="#58bce0" d="M478 351.5h1"/><path stroke="#c0bc7c" d="M479 351.5h1"/><path stroke="#a4a080" d="M480 351.5h1"/><path stroke="#88c8b8" d="M481 351.5h1"/><path stroke="#888888" d="M482 351.5h1"/><path stroke="#307448" d="M483 351.5h1"/><path stroke="#3c9ca4" d="M484 351.5h1"/><path stroke="#78c4c0" d="M485 351.5h1"/><path stroke="#5cb8b4" d="M487 351.5h1"/><path stroke="#b0d89c" d="M489 351.5h1"/><path stroke="#90c8a8" d="M491 351.5h1"/><path stroke="#78bc78" d="M492 351.5h1"/><path stroke="#b4d06c" d="M493 351.5h1"/><path stroke="#64a85c" d="M494 351.5h1"/><path stroke="#688070" d="M495 351.5h1"/><path stroke="#7ca078" d="M496 351.5h1"/><path stroke="#50b8d8" d="M497 351.5h1"/><path stroke="#b8d898" d="M498 351.5h1"/><path stroke="#acd4a4" d="M499 351.5h1"/><path stroke="#88c8ac" d="M500 351.5h1"/><path stroke="#bcd88c" d="M502 351.5h1"/><path stroke="#68c0d4" d="M506 351.5h1"/><path stroke="#80c8c4" d="M511 351.5h1"/><path stroke="#b4d46c" d="M513 351.5h1"/><path stroke="#94bc9c" d="M517 351.5h1"/><path stroke="#c8c478" d="M518 351.5h1"/><path stroke="#e8f4ec" d="M520 351.5h1"/></g><rect x="339.30" y="345.50" width="180.90" height="11.70" fill="none" stroke="#333" stroke-width="1.1"/><text x="522.90" y="352.90">n=8/8</text><rect x="296.30" y="378.40" width="3.10" height="35.90" fill="none" stroke="#2b2b2b" stroke-width="1"/><path d="M296.30 384.38h-1.6" stroke="#333" stroke-width="0.7"/><path d="M296.30 396.35h-1.6" stroke="#333" stroke-width="0.7"/><path d="M296.30 408.32h-1.6" stroke="#333" stroke-width="0.7"/><rect x="296.3" y="417.8" width="3.1" height="12.5" fill="none" stroke="#333" stroke-width="1.1"/><text x="301.40" y="374.20">Total=0</text><text x="301.10" y="386.10">n=0</text><text x="301.10" y="399.30">n=0</text><text x="301.10" y="411.30">n=0</text><text x="292.00" y="387.18" text-anchor="end">Anc.</text><text x="292.00" y="399.15" text-anchor="end">Delta</text><text x="292.00" y="411.12" text-anchor="end">BA.5</text><text x="222.00" y="398.90">SARS-CoV-2</text><path d="M270.90 378.90V414.60" stroke="#555" stroke-width="0.9"/><text x="187.60" y="400.50" font-weight="bold" font-size="12.5">RBD</text><text x="292.00" y="426.30" font-weight="bold" text-anchor="end" font-size="7.1">Donor ID</text><text x="301.10" y="427.00">n=0/8</text><g stroke-width="11" fill="none"><path stroke="#f8d4d8" d="M338 384.5h1"/><path stroke="#e42438" d="M339 384.5h9m1 0h22m1 0h16"/><path stroke="#e42038" d="M348 384.5h1"/><path stroke="#e42838" d="M371 384.5h1m16 0h1"/><path stroke="#e4343c" d="M389 384.5h1"/><path stroke="#e84044" d="M390 384.5h1"/><path stroke="#e84c4c" d="M391 384.5h1"/><path stroke="#ec6058" d="M392 384.5h1"/><path stroke="#f07064" d="M393 384.5h1"/><path stroke="#f08878" d="M394 384.5h1"/><path stroke="#f49c88" d="M395 384.5h1m4 0h1"/><path stroke="#f49884" d="M396 384.5h3"/><path stroke="#f49888" d="M399 384.5h1"/><path stroke="#f4a08c" d="M401 384.5h1"/><path stroke="#f49c8c" d="M402 384.5h1"/><path stroke="#f4a490" d="M403 384.5h1m1 0h1m1 0h1"/><path stroke="#f4a090" d="M404 384.5h1"/><path stroke="#f8a894" d="M406 384.5h1"/><path stroke="#f8ac98" d="M408 384.5h4"/><path stroke="#f8b09c" d="M412 384.5h2"/><path stroke="#f8b0a0" d="M414 384.5h1"/><path stroke="#f8b4a0" d="M415 384.5h1"/><path stroke="#f8b8a4" d="M416 384.5h1m1 0h1m1 0h2"/><path stroke="#f8b8a8" d="M417 384.5h1m1 0h1"/><path stroke="#f8bca8" d="M422 384.5h2"/><path stroke="#f8c0b0" d="M424 384.5h1m1 0h2"/><path stroke="#f8bcac" d="M425 384.5h1"/><path stroke="#f8c4b4" d="M428 384.5h2"/><path stroke="#fce0d8" d="M430 384.5h1"/></g><g stroke-width="12" fill="none"><path stroke="#f8d4d8" d="M338 396h1"/><path stroke="#e42438" d="M339 396h5m4 0h1m1 0h5m2 0h1m1 0h5m2 0h13m2 0h4m3 0h4"/><path stroke="#e83c50" d="M344 396h1"/><path stroke="#f08c98" d="M345 396h1"/><path stroke="#ec6474" d="M346 396h1"/><path stroke="#fcecec" d="M347 396h1"/><path stroke="#f4a8b0" d="M349 396h1m37 0h1"/><path stroke="#e8505c" d="M355 396h1"/><path stroke="#f0808c" d="M356 396h1m28 0h1"/><path stroke="#e42038" d="M358 396h1"/><path stroke="#e43444" d="M364 396h1"/><path stroke="#f098a0" d="M365 396h1"/><path stroke="#f0909c" d="M379 396h1"/><path stroke="#e4384c" d="M380 396h1"/><path stroke="#e84c5c" d="M386 396h1"/><path stroke="#f8b8bc" d="M392 396h1"/><path stroke="#fcd0c8" d="M393 396h1"/><path stroke="#f8b4a0" d="M394 396h1m6 0h1m4 0h1m1 0h1m5 0h1m16 0h4"/><path stroke="#f8ac98" d="M395 396h1m2 0h1m5 0h1m2 0h1"/><path stroke="#f8a894" d="M396 396h1m2 0h1"/><path stroke="#f8a898" d="M397 396h1"/><path stroke="#f4a490" d="M400 396h1"/><path stroke="#fcd0c4" d="M402 396h1"/><path stroke="#f8b8a8" d="M403 396h1m18 0h1"/><path stroke="#fcdcd4" d="M405 396h1"/><path stroke="#fcece8" d="M409 396h1"/><path stroke="#fcd8cc" d="M410 396h1m15 0h1"/><path stroke="#fce0d8" d="M411 396h1"/><path stroke="#f8b0a0" d="M412 396h1"/><path stroke="#f8b8a4" d="M413 396h1m1 0h1m2 0h1m4 0h1"/><path stroke="#f8bcac" d="M416 396h2m3 0h1m2 0h1m2 0h1"/><path stroke="#fcd4c8" d="M419 396h1m5 0h1"/><path stroke="#fcccc0" d="M420 396h1"/><path stroke="#fcc4b4" d="M428 396h1"/><path stroke="#f8b4a4" d="M429 396h1m5 0h1"/><path stroke="#f07870" d="M430 396h1"/></g><g stroke-width="12" fill="none"><path stroke="#f8d4d8" d="M338 408h1"/><path stroke="#e42838" d="M339 408h3"/><path stroke="#ec6060" d="M342 408h1"/><path stroke="#f4a08c" d="M343 408h1"/><path stroke="#f4a090" d="M344 408h1"/><path stroke="#fcd4cc" d="M345 408h1m58 0h1"/><path stroke="#f8b8a8" d="M346 408h1m60 0h2m7 0h1"/><path stroke="#f49484" d="M347 408h1m44 0h1"/><path stroke="#f8b8a4" d="M348 408h1m13 0h1m7 0h1m38 0h1"/><path stroke="#f4a498" d="M349 408h1"/><path stroke="#f4a89c" d="M350 408h1"/><path stroke="#f8bcac" d="M351 408h1m34 0h1m28 0h1"/><path stroke="#fcd8d4" d="M352 408h1"/><path stroke="#f48c7c" d="M353 408h1"/><path stroke="#fcf0e8" d="M354 408h1"/><path stroke="#fce8e0" d="M355 408h1"/><path stroke="#f49c88" d="M356 408h1"/><path stroke="#f49888" d="M357 408h1"/><path stroke="#f8c4b4" d="M358 408h1m44 0h1"/><path stroke="#f4a094" d="M359 408h1"/><path stroke="#f4a098" d="M360 408h1"/><path stroke="#f4aca0" d="M361 408h1"/><path stroke="#fcf4f4" d="M363 408h1"/><path stroke="#fcecf0" d="M364 408h1"/><path stroke="#e42438" d="M365 408h1m1 0h1"/><path stroke="#e42038" d="M366 408h1m12 0h1"/><path stroke="#f0848c" d="M368 408h1"/><path stroke="#fcece8" d="M369 408h1"/><path stroke="#fcdcd4" d="M371 408h1"/><path stroke="#fce0d8" d="M372 408h1m10 0h1m16 0h1m9 0h1"/><path stroke="#f8b09c" d="M373 408h1m19 0h1m5 0h1m1 0h2"/><path stroke="#f8c8bc" d="M374 408h1"/><path stroke="#fcd4c8" d="M375 408h1m35 0h1"/><path stroke="#f8b4a0" d="M377 408h1"/><path stroke="#e84850" d="M378 408h1"/><path stroke="#e84854" d="M380 408h1"/><path stroke="#f8ac98" d="M381 408h2m1 0h1m2 0h1"/><path stroke="#fcd0c4" d="M385 408h1"/><path stroke="#ec5450" d="M388 408h4"/><path stroke="#fff8f8" d="M394 408h1"/><path stroke="#f8c4b8" d="M395 408h1"/><path stroke="#fcd8d0" d="M396 408h1"/><path stroke="#fcccc0" d="M397 408h2m7 0h1"/><path stroke="#f8c0b0" d="M414 408h1m2 0h1"/><path stroke="#f8c0ac" d="M418 408h1"/><path stroke="#fcd4c4" d="M420 408h1"/><path stroke="#fce4dc" d="M421 408h1"/><path stroke="#fce0d4" d="M422 408h1"/></g><rect x="338.80" y="378.60" width="97.80" height="35.50" fill="none" stroke="#2b2b2b" stroke-width="1"/><path d="M338.80 384.52h-1.6" stroke="#333" stroke-width="0.7"/><path d="M338.80 396.35h-1.6" stroke="#333" stroke-width="0.7"/><path d="M338.80 408.18h-1.6" stroke="#333" stroke-width="0.7"/><path d="M339.20 378.60v-1.6" stroke="#333" stroke-width="0.7"/><path d="M369.32 378.60v-1.6" stroke="#333" stroke-width="0.7"/><path d="M399.45 378.60v-1.6" stroke="#333" stroke-width="0.7"/><path d="M429.57 378.60v-1.6" stroke="#333" stroke-width="0.7"/><text x="339.20" y="374.70" text-anchor="middle">1</text><text x="369.32" y="374.70" text-anchor="middle">51</text><text x="399.45" y="374.70" text-anchor="middle">101</text><text x="429.57" y="374.70" text-anchor="middle">151</text><text x="440.60" y="374.90">Total=161</text><text x="440.60" y="386.00">n=151</text><text x="440.60" y="399.50">n=149</text><text x="440.60" y="411.60">n=90</text><g stroke-width="12" fill="none"><path stroke="#ecf4ec" d="M338 424h1"/><path stroke="#98c8a0" d="M339 424h1m5 0h1m2 0h1m17 0h1m20 0h1m14 0h1m10 0h1"/><path stroke="#70a050" d="M340 424h1"/><path stroke="#74c4cc" d="M341 424h1"/><path stroke="#aca47c" d="M342 424h1"/><path stroke="#287038" d="M343 424h1"/><path stroke="#74b088" d="M344 424h1"/><path stroke="#b4b87c" d="M346 424h2"/><path stroke="#6cbc94" d="M349 424h1"/><path stroke="#54bce0" d="M350 424h1m80 0h1"/><path stroke="#a8d4a4" d="M351 424h1"/><path stroke="#4cbce8" d="M352 424h1m8 0h1m2 0h1m3 0h1m11 0h1m12 0h1m3 0h1m6 0h1m1 0h2m14 0h1m9 0h1"/><path stroke="#b4d89c" d="M353 424h1"/><path stroke="#78c4c0" d="M354 424h1"/><path stroke="#54b8d0" d="M355 424h1"/><path stroke="#bcd46c" d="M356 424h1"/><path stroke="#d0e080" d="M357 424h1"/><path stroke="#8ca094" d="M358 424h1"/><path stroke="#98cca4" d="M359 424h1m13 0h1m11 0h1m4 0h2m20 0h1m2 0h1m3 0h1m9 0h2"/><path stroke="#7cc4b8" d="M360 424h1"/><path stroke="#4cb8e8" d="M362 424h1m8 0h1m7 0h1m25 0h1m15 0h1"/><path stroke="#a46478" d="M363 424h1"/><path stroke="#70c0c8" d="M365 424h1"/><path stroke="#64c0d0" d="M367 424h1"/><path stroke="#88c8b0" d="M369 424h1m2 0h1m30 0h1m16 0h1"/><path stroke="#94c8a4" d="M370 424h1m37 0h1"/><path stroke="#50bce4" d="M374 424h1"/><path stroke="#50b8d4" d="M375 424h1m47 0h1"/><path stroke="#a86c48" d="M376 424h1"/><path stroke="#f4dc68" d="M377 424h1"/><path stroke="#a8d09c" d="M378 424h1"/><path stroke="#bcdc94" d="M381 424h1"/><path stroke="#f4c04c" d="M382 424h1"/><path stroke="#e0a048" d="M383 424h1"/><path stroke="#68c0cc" d="M384 424h1"/><path stroke="#7cc080" d="M386 424h1"/><path stroke="#f4e870" d="M388 424h1"/><path stroke="#a4a888" d="M389 424h1"/><path stroke="#60c0d8" d="M392 424h1"/><path stroke="#6cb874" d="M394 424h1"/><path stroke="#70b86c" d="M395 424h1m28 0h1"/><path stroke="#5cb8a8" d="M396 424h1"/><path stroke="#58bce0" d="M398 424h1"/><path stroke="#f4ec70" d="M399 424h1"/><path stroke="#64c0d4" d="M400 424h1"/><path stroke="#7cc4bc" d="M401 424h1"/><path stroke="#88a08c" d="M409 424h1"/><path stroke="#84c088" d="M410 424h1"/><path stroke="#d0dc84" d="M411 424h1m2 0h1m20 0h1"/><path stroke="#c0d88c" d="M416 424h1"/><path stroke="#bcd88c" d="M417 424h1"/><path stroke="#b8d890" d="M418 424h1"/><path stroke="#68c0c8" d="M425 424h1"/><path stroke="#94c4a0" d="M426 424h1"/><path stroke="#888888" d="M427 424h1"/><path stroke="#8c9c90" d="M428 424h1"/><path stroke="#38989c" d="M433 424h1"/><path stroke="#80bc90" d="M434 424h1"/><path stroke="#94d4f0" d="M436 424h1"/></g><rect x="338.80" y="417.60" width="97.80" height="12.40" fill="none" stroke="#333" stroke-width="1.1"/><text x="440.60" y="426.40">n=8/8</text><text x="0.30" y="469.80" font-weight="bold" textLength="8.90" lengthAdjust="spacingAndGlyphs" font-size="14">b</text><text x="147.90" y="491.00" font-weight="bold" font-size="12.5">Pre-pandemic IgA clones</text><text x="341.00" y="490.90" font-weight="bold" font-size="12.5">End-pandemic IgA clones</text><text x="207.00" y="505.50" font-weight="bold" text-anchor="end" font-size="7.4">Clone number</text><g stroke-width="12" fill="none"><path stroke="#d4dcec" d="M248 517h1"/><path stroke="#c0c8e4" d="M249 517h2"/><path stroke="#f0f4f8" d="M251 517h1"/></g><g stroke-width="12" fill="none"><path stroke="#e8ecf4" d="M294 529h1"/><path stroke="#c0c8e4" d="M295 529h2"/><path stroke="#e0e4f4" d="M297 529h1"/></g><g stroke-width="12" fill="none"><path stroke="#acc0dc" d="M213 557h1"/><path stroke="#3464a8" d="M214 557h8"/><path stroke="#6c88c4" d="M222 557h1"/><path stroke="#8098cc" d="M223 557h2"/><path stroke="#acbcdc" d="M225 557h1"/><path stroke="#b8c0e0" d="M226 557h2"/><path stroke="#bcc4e4" d="M228 557h3"/><path stroke="#c0c8e4" d="M231 557h2"/><path stroke="#c0cce4" d="M233 557h1"/><path stroke="#c4cce8" d="M234 557h2"/><path stroke="#d4dcec" d="M236 557h1"/></g><g stroke-width="12" fill="none"><path stroke="#acc0dc" d="M213 569h1"/><path stroke="#3464a8" d="M214 569h5m18 0h2"/><path stroke="#b0c4e0" d="M219 569h1"/><path stroke="#8098c8" d="M222 569h1"/><path stroke="#4c70b4" d="M223 569h2"/><path stroke="#e0e8f4" d="M225 569h1"/><path stroke="#c4cce8" d="M231 569h2"/><path stroke="#ccd4ec" d="M233 569h1"/><path stroke="#ccd8e8" d="M236 569h1"/><path stroke="#3c68ac" d="M239 569h1"/><path stroke="#486cb4" d="M240 569h2"/><path stroke="#7894c8" d="M242 569h1"/><path stroke="#b0c0e0" d="M243 569h2"/><path stroke="#e0e4f0" d="M245 569h1"/></g><g stroke-width="12" fill="none"><path stroke="#90a8d0" d="M245 581h1"/><path stroke="#4068b0" d="M246 581h2"/><path stroke="#90a4d0" d="M248 581h1"/><path stroke="#b0c0e0" d="M249 581h2"/><path stroke="#bcc8e4" d="M251 581h1"/><path stroke="#c0c8e4" d="M252 581h2"/><path stroke="#c0cce4" d="M254 581h3"/><path stroke="#c4cce8" d="M257 581h9"/><path stroke="#c4d0e8" d="M266 581h3"/><path stroke="#c8d0e8" d="M269 581h11"/><path stroke="#ccd4e8" d="M280 581h3"/></g><g stroke-width="12" fill="none"><path stroke="#a4b4d8" d="M248 593h1"/><path stroke="#7890c8" d="M249 593h2"/><path stroke="#98a8d4" d="M251 593h1"/><path stroke="#a0b0d8" d="M252 593h2m12 0h3"/><path stroke="#406cb0" d="M254 593h1"/><path stroke="#3464a8" d="M255 593h4"/><path stroke="#3c68ac" d="M259 593h1"/><path stroke="#7088c4" d="M260 593h2"/><path stroke="#748cc4" d="M262 593h1"/><path stroke="#8098cc" d="M263 593h2"/><path stroke="#8c9cd0" d="M265 593h1"/><path stroke="#a4b4dc" d="M269 593h2"/><path stroke="#a8b4dc" d="M271 593h1"/><path stroke="#a8b8dc" d="M272 593h2"/><path stroke="#acb8dc" d="M274 593h1"/><path stroke="#acbce0" d="M275 593h2"/><path stroke="#b0bce0" d="M277 593h1"/><path stroke="#b4c0e0" d="M278 593h3"/><path stroke="#b8c0e0" d="M281 593h2"/><path stroke="#b8c4e4" d="M283 593h3"/><path stroke="#bcc8e4" d="M286 593h2"/><path stroke="#c0c8e4" d="M288 593h1"/><path stroke="#c0cce4" d="M289 593h2"/><path stroke="#c4cce8" d="M291 593h3"/><path stroke="#dce0f0" d="M294 593h1"/></g><rect x="213.60" y="510.90" width="83.90" height="88.30" fill="none" stroke="#2b2b2b" stroke-width="1"/><path d="M213.60 517.00h-1.6" stroke="#333" stroke-width="0.7"/><path d="M213.60 529.20h-1.6" stroke="#333" stroke-width="0.7"/><path d="M213.60 541.40h-1.6" stroke="#333" stroke-width="0.7"/><path d="M213.60 557.02h-1.6" stroke="#333" stroke-width="0.7"/><path d="M213.60 569.08h-1.6" stroke="#333" stroke-width="0.7"/><path d="M213.60 581.12h-1.6" stroke="#333" stroke-width="0.7"/><path d="M213.60 593.18h-1.6" stroke="#333" stroke-width="0.7"/><path d="M215.05 510.90v-1.6" stroke="#333" stroke-width="0.7"/><path d="M229.51 510.90v-1.6" stroke="#333" stroke-width="0.7"/><path d="M243.98 510.90v-1.6" stroke="#333" stroke-width="0.7"/><path d="M258.44 510.90v-1.6" stroke="#333" stroke-width="0.7"/><path d="M272.91 510.90v-1.6" stroke="#333" stroke-width="0.7"/><path d="M287.37 510.90v-1.6" stroke="#333" stroke-width="0.7"/><text x="215.05" y="505.50" text-anchor="middle">1</text><text x="229.51" y="505.50" text-anchor="middle">6</text><text x="243.98" y="505.50" text-anchor="middle">11</text><text x="258.44" y="505.50" text-anchor="middle">16</text><text x="272.91" y="505.50" text-anchor="middle">21</text><text x="287.37" y="505.50" text-anchor="middle">26</text><text x="301.20" y="505.80">Total=29</text><text x="301.20" y="520.00">n=1</text><text x="301.20" y="531.90">n=1</text><text x="301.20" y="543.90">n=0</text><text x="301.20" y="560.00">n=8</text><text x="301.20" y="571.90">n=7</text><text x="301.20" y="583.90">n=13</text><text x="301.20" y="595.80">n=16</text><text x="207.00" y="519.80" text-anchor="end">Anc.</text><text x="207.00" y="532.00" text-anchor="end">BA.1</text><text x="207.00" y="544.20" text-anchor="end">BA.5</text><text x="207.00" y="559.82" text-anchor="end">229E</text><text x="207.00" y="571.88" text-anchor="end">NL63</text><text x="207.00" y="583.92" text-anchor="end">HKU1</text><text x="207.00" y="595.98" text-anchor="end">OC43</text><text x="181.90" y="533.50" text-anchor="end">SARS-CoV-2</text><path d="M185.60 512.70V548.00" stroke="#555" stroke-width="0.9"/><text x="182.10" y="580.00" text-anchor="end">sHCoV</text><path d="M185.60 553.00V600.20" stroke="#555" stroke-width="0.9"/><text x="120.40" y="554.50" font-weight="bold" font-size="12.5">S-trimer</text><text x="207.10" y="612.90" font-weight="bold" text-anchor="end" font-size="7.1">Donor ID</text><g stroke-width="11" fill="none"><path stroke="#f8d0c0" d="M213 609.5h1"/><path stroke="#f0a484" d="M214 609.5h5m18 0h8m4 0h5m27 0h2m12 0h2"/><path stroke="#d4a8b4" d="M219 609.5h1"/><path stroke="#c8a8cc" d="M220 609.5h2m1 0h10m1 0h2m10 0h2"/><path stroke="#c4a8cc" d="M222 609.5h1m10 0h1"/><path stroke="#d0a8bc" d="M236 609.5h1"/><path stroke="#dca8a8" d="M245 609.5h1"/><path stroke="#e0a4a0" d="M248 609.5h1"/><path stroke="#e44c8c" d="M254 609.5h1"/><path stroke="#e0348c" d="M255 609.5h7m10 0h5m13 0h4"/><path stroke="#e44490" d="M262 609.5h1"/><path stroke="#f8e0a8" d="M263 609.5h8m7 0h2m4 0h5"/><path stroke="#f0a09c" d="M271 609.5h1"/><path stroke="#f0909c" d="M277 609.5h1"/><path stroke="#f4b890" d="M280 609.5h1"/><path stroke="#f8d0a0" d="M283 609.5h1"/><path stroke="#e44090" d="M289 609.5h1"/><path stroke="#e4408c" d="M294 609.5h1"/><path stroke="#f4b89c" d="M297 609.5h1"/></g><rect x="213.50" y="603.70" width="84.30" height="11.70" fill="none" stroke="#333" stroke-width="1.1"/><text x="301.20" y="612.40">n=4/8</text><g stroke-width="13" fill="none"><path stroke="#fce0d8" d="M346 516.5h1"/><path stroke="#f8bcac" d="M347 516.5h2m21 0h2"/><path stroke="#fce4dc" d="M349 516.5h1"/><path stroke="#e85868" d="M355 516.5h1"/><path stroke="#e42038" d="M356 516.5h2m18 0h2m1 0h5m1 0h2"/><path stroke="#fcdce0" d="M358 516.5h1"/><path stroke="#fcf4f4" d="M366 516.5h1"/><path stroke="#f4a490" d="M367 516.5h2m25 0h2"/><path stroke="#f8a894" d="M369 516.5h1m26 0h3"/><path stroke="#fcd0c4" d="M372 516.5h1"/><path stroke="#f4acb0" d="M375 516.5h1"/><path stroke="#e42034" d="M378 516.5h1m5 0h1"/><path stroke="#e84044" d="M387 516.5h1"/><path stroke="#e84848" d="M388 516.5h2"/><path stroke="#ec5050" d="M390 516.5h1"/><path stroke="#ec5450" d="M391 516.5h2"/><path stroke="#f49c8c" d="M393 516.5h1"/><path stroke="#f8ac98" d="M399 516.5h5"/><path stroke="#f8b09c" d="M404 516.5h3"/><path stroke="#f8b4a0" d="M407 516.5h3"/><path stroke="#f8b4a4" d="M410 516.5h1"/><path stroke="#f8b8a4" d="M411 516.5h2"/><path stroke="#f8b8a8" d="M413 516.5h1"/><path stroke="#f8bca8" d="M414 516.5h2"/><path stroke="#fce8e0" d="M416 516.5h1"/></g><g stroke-width="12" fill="none"><path stroke="#fce0d8" d="M346 529h1"/><path stroke="#f8bcac" d="M347 529h2m24 0h2m24 0h2"/><path stroke="#fce4dc" d="M349 529h1"/><path stroke="#e85868" d="M355 529h1"/><path stroke="#e42038" d="M356 529h2m18 0h2m1 0h5m1 0h2"/><path stroke="#fcdce0" d="M358 529h1"/><path stroke="#fcf4f4" d="M366 529h1"/><path stroke="#f4a490" d="M367 529h2"/><path stroke="#f8b4a4" d="M369 529h1m25 0h1"/><path stroke="#fcece8" d="M372 529h1m31 0h1"/><path stroke="#f08080" d="M375 529h1"/><path stroke="#e42034" d="M378 529h1m5 0h1"/><path stroke="#f8c8cc" d="M387 529h1"/><path stroke="#ec6868" d="M390 529h1"/><path stroke="#e84848" d="M391 529h2"/><path stroke="#f8ac9c" d="M393 529h1"/><path stroke="#f8b4a0" d="M394 529h1m22 0h8"/><path stroke="#fff8f8" d="M398 529h1m26 0h1"/><path stroke="#fcc8bc" d="M401 529h1"/><path stroke="#f8c0b0" d="M405 529h2"/><path stroke="#fcd8d0" d="M407 529h1"/><path stroke="#fcd0c4" d="M416 529h1"/></g><g stroke-width="12" fill="none"><path stroke="#fce0d8" d="M346 541h1"/><path stroke="#f8bcac" d="M347 541h2m20 0h1m29 0h2m29 0h1"/><path stroke="#fce4dc" d="M349 541h1"/><path stroke="#e85868" d="M355 541h1"/><path stroke="#e42038" d="M356 541h2m18 0h2m1 0h5"/><path stroke="#fcdce0" d="M358 541h1"/><path stroke="#fff4f4" d="M366 541h1"/><path stroke="#f8ac98" d="M367 541h2"/><path stroke="#f4acb0" d="M375 541h1"/><path stroke="#e42034" d="M378 541h1"/><path stroke="#e85050" d="M384 541h1"/><path stroke="#ec685c" d="M385 541h2"/><path stroke="#fcd8d4" d="M387 541h1"/><path stroke="#ec6868" d="M390 541h1"/><path stroke="#e84848" d="M391 541h2"/><path stroke="#f8ac9c" d="M393 541h1"/><path stroke="#f8b4a0" d="M394 541h1m33 0h2"/><path stroke="#f8b4a4" d="M395 541h1"/><path stroke="#fff8f8" d="M398 541h1"/><path stroke="#fcc8bc" d="M401 541h1"/><path stroke="#ec6864" d="M425 541h1"/><path stroke="#ec5c58" d="M426 541h2"/></g><g stroke-width="12" fill="none"><path stroke="#f8bcc4" d="M340 557h1"/><path stroke="#e42038" d="M341 557h2"/><path stroke="#e42c3c" d="M343 557h1"/><path stroke="#e83840" d="M344 557h2"/><path stroke="#f07470" d="M346 557h1"/><path stroke="#f8b4a0" d="M347 557h8"/><path stroke="#fcece8" d="M355 557h1"/></g><g stroke-width="12" fill="none"><path stroke="#f4b4b8" d="M343 569h1"/><path stroke="#e84044" d="M344 569h2"/><path stroke="#f07c74" d="M346 569h1"/><path stroke="#f8bcac" d="M347 569h2"/><path stroke="#fce4dc" d="M349 569h1"/><path stroke="#f8c8b8" d="M355 569h1"/><path stroke="#f8b4a0" d="M356 569h5"/><path stroke="#fff8f8" d="M361 569h1"/></g><g stroke-width="12" fill="none"><path stroke="#fce0d8" d="M346 581h1"/><path stroke="#f8bcac" d="M347 581h2"/><path stroke="#fce4dc" d="M349 581h1"/><path stroke="#f4a090" d="M361 581h1"/><path stroke="#f49888" d="M362 581h4"/><path stroke="#f49c88" d="M366 581h1"/><path stroke="#f8b4a0" d="M367 581h8"/><path stroke="#fcd0c4" d="M375 581h1"/></g><g stroke-width="12" fill="none"><path stroke="#fce0d8" d="M346 593h1"/><path stroke="#f8bcac" d="M347 593h2"/><path stroke="#fce4dc" d="M349 593h1"/><path stroke="#ec5454" d="M361 593h1m4 0h1"/><path stroke="#e84848" d="M362 593h4"/><path stroke="#f8b4a0" d="M367 593h2"/><path stroke="#f8c4b4" d="M369 593h1"/></g><rect x="340.70" y="510.50" width="90.20" height="88.70" fill="none" stroke="#2b2b2b" stroke-width="1"/><path d="M340.70 516.58h-1.6" stroke="#333" stroke-width="0.7"/><path d="M340.70 528.75h-1.6" stroke="#333" stroke-width="0.7"/><path d="M340.70 540.92h-1.6" stroke="#333" stroke-width="0.7"/><path d="M340.70 557.02h-1.6" stroke="#333" stroke-width="0.7"/><path d="M340.70 569.08h-1.6" stroke="#333" stroke-width="0.7"/><path d="M340.70 581.12h-1.6" stroke="#333" stroke-width="0.7"/><path d="M340.70 593.18h-1.6" stroke="#333" stroke-width="0.7"/><path d="M342.15 510.50v-1.6" stroke="#333" stroke-width="0.7"/><path d="M356.70 510.50v-1.6" stroke="#333" stroke-width="0.7"/><path d="M371.25 510.50v-1.6" stroke="#333" stroke-width="0.7"/><path d="M385.80 510.50v-1.6" stroke="#333" stroke-width="0.7"/><path d="M400.35 510.50v-1.6" stroke="#333" stroke-width="0.7"/><path d="M414.90 510.50v-1.6" stroke="#333" stroke-width="0.7"/><path d="M429.45 510.50v-1.6" stroke="#333" stroke-width="0.7"/><text x="342.15" y="505.50" text-anchor="middle">1</text><text x="356.70" y="505.50" text-anchor="middle">6</text><text x="371.25" y="505.50" text-anchor="middle">11</text><text x="385.80" y="505.50" text-anchor="middle">16</text><text x="400.35" y="505.50" text-anchor="middle">21</text><text x="414.90" y="505.50" text-anchor="middle">26</text><text x="429.45" y="505.50" text-anchor="middle">31</text><text x="435.60" y="505.80">Total=31</text><text x="434.90" y="520.00">n=18</text><text x="434.90" y="531.90">n=15</text><text x="434.90" y="543.90">n=12</text><text x="434.90" y="560.00">n=5</text><text x="434.90" y="571.90">n=4</text><text x="434.90" y="583.90">n=6</text><text x="434.90" y="595.80">n=4</text><g stroke-width="12" fill="none"><path stroke="#dcdcdc" d="M340 609h1"/><path stroke="#888888" d="M341 609h2m33 0h11m4 0h2m3 0h2m4 0h5"/><path stroke="#7c9c7c" d="M343 609h1"/><path stroke="#70b868" d="M344 609h2m7 0h2m4 0h4m31 0h1m16 0h5"/><path stroke="#b0d06c" d="M346 609h1"/><path stroke="#f4e870" d="M347 609h5m12 0h2m4 0h2m36 0h2"/><path stroke="#9cc86c" d="M352 609h1"/><path stroke="#54b8c8" d="M355 609h1"/><path stroke="#4cb8e8" d="M356 609h2m9 0h2m4 0h2m13 0h2m30 0h7"/><path stroke="#68b87c" d="M358 609h1"/><path stroke="#70b86c" d="M363 609h1m31 0h1"/><path stroke="#e0e47c" d="M366 609h1"/><path stroke="#70c4d0" d="M369 609h1"/><path stroke="#c4dc90" d="M372 609h1"/><path stroke="#64a8c4" d="M375 609h1"/><path stroke="#5cacd0" d="M387 609h1"/><path stroke="#809098" d="M390 609h1"/><path stroke="#70b46c" d="M393 609h1"/><path stroke="#88908c" d="M398 609h1"/><path stroke="#98c8a0" d="M399 609h2m16 0h2m9 0h2"/><path stroke="#94bc9c" d="M401 609h1"/><path stroke="#b0ac80" d="M407 609h1"/><path stroke="#b4d46c" d="M410 609h1"/><path stroke="#88c490" d="M416 609h1"/><path stroke="#60c0d4" d="M419 609h1"/><path stroke="#4cbce8" d="M427 609h1"/><path stroke="#a0d0ac" d="M430 609h1"/></g><rect x="340.70" y="603.10" width="90.20" height="11.70" fill="none" stroke="#333" stroke-width="1.1"/><text x="434.90" y="612.40">n=5/8</text><g stroke-width="12" fill="none"><path stroke="#acc0dc" d="M286 690h1"/><path stroke="#3464a8" d="M287 690h5"/><path stroke="#ecf0f8" d="M292 690h1"/></g><g stroke-width="12" fill="none"><path stroke="#c4d0e8" d="M286 702h1"/><path stroke="#7088c4" d="M287 702h5"/><path stroke="#a4b0d8" d="M292 702h1"/><path stroke="#a8b8dc" d="M293 702h1"/><path stroke="#b4c0e0" d="M294 702h1"/></g><g stroke-width="12" fill="none"><path stroke="#e8ecf4" d="M294 714h1"/><path stroke="#5c78bc" d="M295 714h2"/><path stroke="#9cb0d8" d="M297 714h1"/></g><g stroke-width="12" fill="none"><path stroke="#f4f8fc" d="M294 726h1"/><path stroke="#c0c8e4" d="M295 726h2"/><path stroke="#d8e0f0" d="M297 726h1"/></g><rect x="286.60" y="633.00" width="11.00" height="99.30" fill="none" stroke="#2b2b2b" stroke-width="1"/><path d="M286.60 638.88h-1.6" stroke="#333" stroke-width="0.7"/><path d="M286.60 650.62h-1.6" stroke="#333" stroke-width="0.7"/><path d="M286.60 662.38h-1.6" stroke="#333" stroke-width="0.7"/><path d="M286.60 674.12h-1.6" stroke="#333" stroke-width="0.7"/><path d="M286.60 690.21h-1.6" stroke="#333" stroke-width="0.7"/><path d="M286.60 702.24h-1.6" stroke="#333" stroke-width="0.7"/><path d="M286.60 714.26h-1.6" stroke="#333" stroke-width="0.7"/><path d="M286.60 726.29h-1.6" stroke="#333" stroke-width="0.7"/><path d="M287.98 633.00v-1.6" stroke="#333" stroke-width="0.7"/><path d="M296.23 633.00v-1.6" stroke="#333" stroke-width="0.7"/><text x="287.98" y="627.70" text-anchor="middle">1</text><text x="296.23" y="627.70" text-anchor="middle">4</text><text x="301.00" y="628.40">Total=4</text><text x="301.10" y="640.20">n=0</text><text x="301.10" y="652.40">n=0</text><text x="301.10" y="664.20">n=0</text><text x="301.10" y="676.30">n=0</text><text x="301.10" y="692.20">n=2</text><text x="301.10" y="704.40">n=3</text><text x="301.10" y="716.50">n=1</text><text x="301.10" y="728.60">n=1</text><text x="280.30" y="641.67" text-anchor="end">Anc.</text><text x="280.30" y="653.42" text-anchor="end">Delta</text><text x="280.30" y="665.17" text-anchor="end">BA.1</text><text x="280.30" y="676.92" text-anchor="end">BA.5</text><text x="280.30" y="693.01" text-anchor="end">229E</text><text x="280.30" y="705.04" text-anchor="end">NL63</text><text x="280.30" y="717.06" text-anchor="end">HKU1</text><text x="280.30" y="729.09" text-anchor="end">OC43</text><text x="209.60" y="658.40">SARS-CoV-2</text><path d="M257.70 633.00V680.30" stroke="#555" stroke-width="0.9"/><text x="254.40" y="711.30" text-anchor="end">sHCoV</text><path d="M257.70 684.60V732.30" stroke="#555" stroke-width="0.9"/><text x="198.60" y="686.70" font-weight="bold" font-size="12.5">S1</text><text x="279.60" y="744.70" font-weight="bold" text-anchor="end" font-size="7.1">Donor ID</text><g stroke-width="12" fill="none"><path stroke="#f8dccc" d="M286 742h1"/><path stroke="#f0a484" d="M287 742h10"/><path stroke="#f4b89c" d="M297 742h1"/></g><rect x="286.60" y="735.50" width="11.20" height="12.50" fill="none" stroke="#333" stroke-width="1.1"/><text x="301.10" y="743.90">n=1/8</text><g stroke-width="12" fill="none"><path stroke="#f8d4d8" d="M355 638h1"/><path stroke="#e42038" d="M356 638h5m1 0h2"/><path stroke="#e42034" d="M361 638h1"/><path stroke="#e8484c" d="M364 638h1"/><path stroke="#ec685c" d="M365 638h2"/><path stroke="#f49c8c" d="M367 638h1"/><path stroke="#f8b4a0" d="M368 638h7"/><path stroke="#f8b8a4" d="M375 638h1"/></g><g stroke-width="12" fill="none"><path stroke="#f8d4d8" d="M355 650h1"/><path stroke="#e42038" d="M356 650h5m1 0h2"/><path stroke="#e42034" d="M361 650h1"/><path stroke="#e83c44" d="M364 650h1"/><path stroke="#ec5450" d="M365 650h2"/><path stroke="#f8c4c4" d="M367 650h1"/><path stroke="#f8c4b4" d="M370 650h1"/><path stroke="#f8b4a0" d="M371 650h10"/><path stroke="#f8c8bc" d="M381 650h1"/></g><g stroke-width="12" fill="none"><path stroke="#f8d4d8" d="M355 662h1"/><path stroke="#e42038" d="M356 662h5m1 0h2"/><path stroke="#e42034" d="M361 662h1"/><path stroke="#f07470" d="M364 662h1"/><path stroke="#f8b4a0" d="M365 662h2m4 0h2m9 0h2"/><path stroke="#fce8e0" d="M367 662h1"/><path stroke="#f8c4b4" d="M370 662h1"/><path stroke="#fff8f8" d="M373 662h1"/><path stroke="#fcece8" d="M381 662h1"/><path stroke="#fcd0c4" d="M384 662h1"/></g><g stroke-width="12" fill="none"><path stroke="#f8c8bc" d="M344 674h1"/><path stroke="#f8b4a0" d="M345 674h2m35 0h5"/><path stroke="#fcf4f0" d="M347 674h1"/><path stroke="#f8d4d8" d="M355 674h1"/><path stroke="#e42038" d="M356 674h5"/><path stroke="#e85054" d="M361 674h1"/><path stroke="#f4907c" d="M362 674h5"/><path stroke="#fcd8d4" d="M367 674h1"/><path stroke="#fcece8" d="M381 674h1"/><path stroke="#fcd8d0" d="M387 674h1"/></g><g stroke-width="12" fill="none"><path stroke="#f07c88" d="M341 690h1"/><path stroke="#e42038" d="M342 690h2"/><path stroke="#f48c84" d="M344 690h1"/><path stroke="#f8b4a0" d="M345 690h2"/><path stroke="#fcf4f0" d="M347 690h1"/></g><g stroke-width="12" fill="none"><path stroke="#f8c8bc" d="M344 702h1"/><path stroke="#f8b4a0" d="M345 702h7"/><path stroke="#f8b8a8" d="M352 702h1"/></g><g stroke-width="12" fill="none"><path stroke="#fff8f8" d="M352 726h1"/><path stroke="#f8b4a0" d="M353 726h2"/><path stroke="#f8c4b4" d="M355 726h1"/></g><rect x="341.40" y="631.60" width="46.10" height="100.40" fill="none" stroke="#2b2b2b" stroke-width="1"/><path d="M341.40 637.62h-1.6" stroke="#333" stroke-width="0.7"/><path d="M341.40 649.67h-1.6" stroke="#333" stroke-width="0.7"/><path d="M341.40 661.73h-1.6" stroke="#333" stroke-width="0.7"/><path d="M341.40 673.77h-1.6" stroke="#333" stroke-width="0.7"/><path d="M341.40 690.18h-1.6" stroke="#333" stroke-width="0.7"/><path d="M341.40 702.12h-1.6" stroke="#333" stroke-width="0.7"/><path d="M341.40 714.08h-1.6" stroke="#333" stroke-width="0.7"/><path d="M341.40 726.02h-1.6" stroke="#333" stroke-width="0.7"/><path d="M342.84 631.60v-1.6" stroke="#333" stroke-width="0.7"/><path d="M357.25 631.60v-1.6" stroke="#333" stroke-width="0.7"/><path d="M371.65 631.60v-1.6" stroke="#333" stroke-width="0.7"/><path d="M386.06 631.60v-1.6" stroke="#333" stroke-width="0.7"/><text x="342.84" y="628.10" text-anchor="middle">1</text><text x="357.25" y="628.10" text-anchor="middle">6</text><text x="371.65" y="628.10" text-anchor="middle">11</text><text x="386.06" y="628.10" text-anchor="middle">16</text><text x="391.70" y="628.40">Total=16</text><text x="391.50" y="639.60">n=7</text><text x="391.50" y="651.80">n=8</text><text x="391.50" y="663.70">n=6</text><text x="391.50" y="675.70">n=7</text><text x="391.50" y="691.70">n=2</text><text x="391.50" y="703.80">n=3</text><text x="391.50" y="716.00">n=0</text><text x="391.50" y="728.00">n=1</text><g stroke-width="11" fill="none"><path stroke="#b8b8b8" d="M341 741.5h1"/><path stroke="#888888" d="M342 741.5h2m7 0h1m7 0h8m7 0h2"/><path stroke="#d4d074" d="M344 741.5h1"/><path stroke="#f4e870" d="M345 741.5h2"/><path stroke="#84c06c" d="M347 741.5h1"/><path stroke="#70b868" d="M348 741.5h2m18 0h2m6 0h2"/><path stroke="#888c88" d="M350 741.5h1m1 0h1"/><path stroke="#98c8a0" d="M353 741.5h2m16 0h2m6 0h2"/><path stroke="#88c8b0" d="M355 741.5h1"/><path stroke="#4cb8e8" d="M356 741.5h2m27 0h2"/><path stroke="#60acc8" d="M358 741.5h1"/><path stroke="#78a874" d="M367 741.5h1"/><path stroke="#8cc898" d="M370 741.5h1"/><path stroke="#88908c" d="M373 741.5h1"/><path stroke="#74bc74" d="M378 741.5h1"/><path stroke="#78b088" d="M381 741.5h1"/><path stroke="#207038" d="M382 741.5h2"/><path stroke="#308c7c" d="M384 741.5h1"/><path stroke="#a4dcf4" d="M387 741.5h1"/></g><rect x="341.40" y="735.50" width="46.10" height="11.80" fill="none" stroke="#333" stroke-width="1.1"/><text x="391.50" y="742.80">n=6/8</text><g stroke-width="12" fill="none"><path stroke="#c4d0e4" d="M277 777h1"/><path stroke="#3464a8" d="M278 777h2"/><path stroke="#7898c4" d="M280 777h1"/><path stroke="#e8ecf4" d="M283 777h1"/><path stroke="#c0c8e4" d="M284 777h2m7 0h5"/><path stroke="#d8e0f0" d="M286 777h1"/><path stroke="#e4e8f4" d="M292 777h1"/><path stroke="#e0e4f4" d="M298 777h1"/></g><g stroke-width="11" fill="none"><path stroke="#c4d0e4" d="M277 792.5h1"/><path stroke="#3464a8" d="M278 792.5h2"/><path stroke="#6084bc" d="M280 792.5h1"/><path stroke="#bcc8e4" d="M281 792.5h11"/><path stroke="#d8e0f0" d="M292 792.5h1"/></g><g stroke-width="13" fill="none"><path stroke="#c4d0e4" d="M277 804.5h1"/><path stroke="#3464a8" d="M278 804.5h2"/><path stroke="#7898c4" d="M280 804.5h1"/><path stroke="#e8ecf4" d="M283 804.5h1"/><path stroke="#c0c8e4" d="M284 804.5h2"/><path stroke="#d8e0f0" d="M286 804.5h1"/></g><rect x="277.70" y="770.70" width="20.80" height="39.90" fill="none" stroke="#2b2b2b" stroke-width="1"/><path d="M277.70 776.85h-1.6" stroke="#333" stroke-width="0.7"/><path d="M277.70 792.60h-1.6" stroke="#333" stroke-width="0.7"/><path d="M277.70 804.55h-1.6" stroke="#333" stroke-width="0.7"/><path d="M279.19 770.70v-1.6" stroke="#333" stroke-width="0.7"/><path d="M294.04 770.70v-1.6" stroke="#333" stroke-width="0.7"/><text x="279.19" y="767.00" text-anchor="middle">1</text><text x="294.04" y="767.00" text-anchor="middle">6</text><text x="302.00" y="767.00">Total=7</text><text x="301.20" y="779.50">n=4</text><text x="301.20" y="795.50">n=5</text><text x="301.20" y="807.50">n=2</text><text x="271.40" y="780.50" text-anchor="end">SARS-CoV-2 Anc.</text><text x="271.40" y="794.40" text-anchor="end">HKU1</text><text x="271.40" y="806.20" text-anchor="end">OC43</text><path d="M249.30 787.00V810.20" stroke="#555" stroke-width="0.9"/><text x="247.20" y="801.00" text-anchor="end">sHCoV</text><text x="195.50" y="796.20" font-weight="bold" font-size="12.5">S2</text><text x="271.40" y="823.80" font-weight="bold" text-anchor="end" font-size="7.1">Donor ID</text><g stroke-width="13" fill="none"><path stroke="#fce4dc" d="M277 820.5h1"/><path stroke="#f0a484" d="M278 820.5h2m7 0h2"/><path stroke="#e4b8a8" d="M280 820.5h1"/><path stroke="#c4e4f0" d="M281 820.5h2"/><path stroke="#c4d0e4" d="M283 820.5h1"/><path stroke="#c8a8cc" d="M284 820.5h2m4 0h5"/><path stroke="#d8a8b0" d="M286 820.5h1"/><path stroke="#e0a4a0" d="M289 820.5h1"/><path stroke="#dcc0bc" d="M295 820.5h1"/><path stroke="#f8e0a8" d="M296 820.5h2"/><path stroke="#fcf0d4" d="M298 820.5h1"/></g><rect x="277.70" y="814.50" width="20.80" height="12.10" fill="none" stroke="#333" stroke-width="1.1"/><text x="301.20" y="822.30">n=4/8</text><g stroke-width="13" fill="none"><path stroke="#f4907c" d="M344 776.5h2m16 0h2"/><path stroke="#f49c8c" d="M346 776.5h1"/><path stroke="#f8d0d4" d="M349 776.5h1"/><path stroke="#e42038" d="M350 776.5h2"/><path stroke="#ec6878" d="M352 776.5h1"/><path stroke="#f8b8ac" d="M361 776.5h1"/><path stroke="#f49480" d="M364 776.5h3"/><path stroke="#f49884" d="M367 776.5h3"/><path stroke="#f49c88" d="M370 776.5h3"/><path stroke="#f4a08c" d="M373 776.5h3"/><path stroke="#f4a490" d="M376 776.5h2"/><path stroke="#f8a494" d="M378 776.5h1"/><path stroke="#f8a894" d="M379 776.5h2"/><path stroke="#f8ac98" d="M381 776.5h3"/><path stroke="#f8b09c" d="M384 776.5h3"/><path stroke="#f8b4a0" d="M387 776.5h3"/><path stroke="#fce8e4" d="M390 776.5h1"/></g><g stroke-width="13" fill="none"><path stroke="#f8bcac" d="M341 792.5h1"/><path stroke="#f8b4a0" d="M342 792.5h10"/><path stroke="#fcccc0" d="M352 792.5h1"/></g><g stroke-width="12" fill="none"><path stroke="#f8bcac" d="M341 805h1"/><path stroke="#f8b4a0" d="M342 805h2"/><path stroke="#f4907c" d="M344 805h2"/><path stroke="#f49c8c" d="M346 805h1"/><path stroke="#f8d4d4" d="M349 805h1"/><path stroke="#e4303c" d="M350 805h2"/><path stroke="#e84448" d="M352 805h1"/><path stroke="#ec685c" d="M353 805h2"/><path stroke="#f08478" d="M355 805h1"/><path stroke="#f8ac98" d="M356 805h5"/><path stroke="#fce0dc" d="M361 805h1"/></g><rect x="341.10" y="770.40" width="49.20" height="40.30" fill="none" stroke="#2b2b2b" stroke-width="1"/><path d="M341.10 776.55h-1.6" stroke="#333" stroke-width="0.7"/><path d="M341.10 792.65h-1.6" stroke="#333" stroke-width="0.7"/><path d="M341.10 804.75h-1.6" stroke="#333" stroke-width="0.7"/><path d="M342.55 770.40v-1.6" stroke="#333" stroke-width="0.7"/><path d="M357.02 770.40v-1.6" stroke="#333" stroke-width="0.7"/><path d="M371.49 770.40v-1.6" stroke="#333" stroke-width="0.7"/><path d="M385.96 770.40v-1.6" stroke="#333" stroke-width="0.7"/><text x="342.55" y="766.40" text-anchor="middle">1</text><text x="357.02" y="766.40" text-anchor="middle">6</text><text x="371.49" y="766.40" text-anchor="middle">11</text><text x="385.96" y="766.40" text-anchor="middle">16</text><text x="393.00" y="766.40">Total=17</text><text x="393.20" y="779.00">n=12</text><text x="393.20" y="795.00">n=4</text><text x="393.20" y="806.80">n=6</text><g stroke-width="12" fill="none"><path stroke="#f4ec7c" d="M341 820h1"/><path stroke="#f4e870" d="M342 820h2m12 0h2m27 0h2"/><path stroke="#4cb8e8" d="M344 820h2m1 0h2m19 0h2m6 0h2"/><path stroke="#4cbce8" d="M346 820h1"/><path stroke="#58b0d4" d="M349 820h1"/><path stroke="#888888" d="M350 820h2m19 0h4m4 0h5m4 0h2"/><path stroke="#809880" d="M352 820h1"/><path stroke="#70b868" d="M353 820h2m7 0h2"/><path stroke="#a8cc6c" d="M355 820h1"/><path stroke="#c0d888" d="M358 820h1"/><path stroke="#98c8a0" d="M359 820h2m4 0h2"/><path stroke="#7cc080" d="M361 820h1"/><path stroke="#8cc494" d="M364 820h1"/><path stroke="#58bcdc" d="M367 820h1"/><path stroke="#848c8c" d="M370 820h1"/><path stroke="#7c9098" d="M375 820h1"/><path stroke="#5caccc" d="M378 820h1"/><path stroke="#bcb87c" d="M384 820h1"/><path stroke="#b4b07c" d="M387 820h1"/><path stroke="#dcdcdc" d="M390 820h1"/></g><rect x="341.10" y="814.50" width="49.20" height="12.00" fill="none" stroke="#333" stroke-width="1.1"/><text x="393.20" y="821.60">n=5/8</text><rect x="295.30" y="848.10" width="2.60" height="37.30" fill="none" stroke="#2b2b2b" stroke-width="1"/><path d="M295.30 854.32h-1.6" stroke="#333" stroke-width="0.7"/><path d="M295.30 866.75h-1.6" stroke="#333" stroke-width="0.7"/><path d="M295.30 879.18h-1.6" stroke="#333" stroke-width="0.7"/><rect x="295.3" y="887.4" width="2.6" height="12.5" fill="none" stroke="#333" stroke-width="1.1"/><text x="301.30" y="843.50">Total=0</text><text x="301.10" y="856.50">n=0</text><text x="301.10" y="869.70">n=0</text><text x="301.10" y="881.70">n=0</text><text x="289.30" y="857.12" text-anchor="end">Anc.</text><text x="289.30" y="869.55" text-anchor="end">Delta</text><text x="289.30" y="881.98" text-anchor="end">BA.5</text><text x="218.30" y="868.90">SARS-CoV-2</text><path d="M267.40 848.90V885.20" stroke="#555" stroke-width="0.9"/><text x="184.20" y="872.50" font-weight="bold" font-size="12.5">RBD</text><text x="289.30" y="896.20" font-weight="bold" text-anchor="end" font-size="7.1">Donor ID</text><text x="301.10" y="896.50">n=0/8</text><g stroke-width="12" fill="none"><path stroke="#f0909c" d="M340 854h1"/><path stroke="#e42038" d="M341 854h2"/><path stroke="#ec5858" d="M343 854h1"/><path stroke="#f08474" d="M344 854h2"/><path stroke="#f4a090" d="M346 854h1"/><path stroke="#f8b4a0" d="M347 854h8"/><path stroke="#fce8e4" d="M355 854h1"/></g><g stroke-width="13" fill="none"><path stroke="#f0909c" d="M340 866.5h1"/><path stroke="#e42038" d="M341 866.5h2"/><path stroke="#ec5858" d="M343 866.5h1"/><path stroke="#f08474" d="M344 866.5h2"/><path stroke="#f4a090" d="M346 866.5h1"/><path stroke="#f8b4a0" d="M347 866.5h5m4 0h2"/><path stroke="#fce8e0" d="M352 866.5h1"/><path stroke="#f8c8bc" d="M355 866.5h1"/><path stroke="#fcece8" d="M358 866.5h1"/></g><g stroke-width="12" fill="none"><path stroke="#f0909c" d="M340 879h1"/><path stroke="#e42038" d="M341 879h2"/><path stroke="#ec5858" d="M343 879h1"/><path stroke="#f08474" d="M344 879h2"/><path stroke="#f8ccc4" d="M346 879h1"/><path stroke="#fcd0c4" d="M349 879h1"/><path stroke="#f8b4a0" d="M350 879h2"/><path stroke="#fce8e0" d="M352 879h1"/><path stroke="#f8b8ac" d="M358 879h1"/><path stroke="#f4a490" d="M359 879h2"/><path stroke="#fcece8" d="M361 879h1"/></g><rect x="340.50" y="848.40" width="20.70" height="36.30" fill="none" stroke="#2b2b2b" stroke-width="1"/><path d="M340.50 854.45h-1.6" stroke="#333" stroke-width="0.7"/><path d="M340.50 866.55h-1.6" stroke="#333" stroke-width="0.7"/><path d="M340.50 878.65h-1.6" stroke="#333" stroke-width="0.7"/><path d="M341.98 848.40v-1.6" stroke="#333" stroke-width="0.7"/><path d="M356.76 848.40v-1.6" stroke="#333" stroke-width="0.7"/><text x="341.98" y="844.80" text-anchor="middle">1</text><text x="356.76" y="844.80" text-anchor="middle">6</text><text x="365.30" y="844.80">Total=7</text><text x="364.70" y="857.00">n=5</text><text x="364.70" y="869.00">n=5</text><text x="364.70" y="881.10">n=4</text><g stroke-width="13" fill="none"><path stroke="#98d4ac" d="M340 893.5h1"/><path stroke="#34a858" d="M341 893.5h8m4 0h2"/><path stroke="#acd064" d="M349 893.5h1"/><path stroke="#f4e870" d="M350 893.5h2m4 0h2"/><path stroke="#74bc60" d="M352 893.5h1"/><path stroke="#bcd868" d="M355 893.5h1"/><path stroke="#74c4cc" d="M358 893.5h1"/><path stroke="#4cb8e8" d="M359 893.5h2"/><path stroke="#dcf0fc" d="M361 893.5h1"/></g><rect x="340.50" y="887.20" width="20.70" height="12.60" fill="none" stroke="#333" stroke-width="1.1"/><text x="364.70" y="895.20">n=3/8</text><rect x="433.6" y="790.2" width="149.4" height="106.9" fill="none" stroke="#333" stroke-width="1"/><text x="474.00" y="804.80" font-weight="bold" text-anchor="middle" font-size="7.1">Donor ID</text><text x="457.20" y="815.00" text-anchor="middle">Pre</text><text x="485.30" y="815.00" text-anchor="middle">End</text><rect x="446" y="820.40" width="13.1" height="2.4" fill="#f1a484"/><text x="461.00" y="824.40">1</text><rect x="475.9" y="820.40" width="13.1" height="2.4" fill="#da2e2e"/><text x="491.50" y="824.40">9</text><rect x="446" y="829.50" width="13.1" height="2.4" fill="#f4c8d8"/><text x="461.00" y="833.50">2</text><rect x="475.9" y="829.50" width="13.1" height="2.4" fill="#f69228"/><text x="491.50" y="833.50">10</text><rect x="446" y="838.40" width="13.1" height="2.4" fill="#96ccbe"/><text x="461.00" y="842.40">3</text><rect x="475.9" y="838.40" width="13.1" height="2.4" fill="#f4ea6e"/><text x="491.50" y="842.40">11</text><rect x="446" y="847.40" width="13.1" height="2.4" fill="#c6a8cc"/><text x="461.00" y="851.40">4</text><rect x="475.9" y="847.40" width="13.1" height="2.4" fill="#6eb86a"/><text x="491.50" y="851.40">12</text><rect x="446" y="856.20" width="13.1" height="2.4" fill="#c4e4f0"/><text x="461.00" y="860.20">5</text><rect x="475.9" y="856.20" width="13.1" height="2.4" fill="#4cbae8"/><text x="491.50" y="860.20">13</text><rect x="446" y="865.20" width="13.1" height="2.4" fill="#6caee0"/><text x="461.00" y="869.20">6</text><rect x="475.9" y="865.20" width="13.1" height="2.4" fill="#96caa2"/><text x="491.50" y="869.20">14</text><rect x="446" y="874.10" width="13.1" height="2.4" fill="#f8dea8"/><text x="461.00" y="878.10">7</text><rect x="475.9" y="874.10" width="13.1" height="2.4" fill="#1e6e3a"/><text x="491.50" y="878.10">15</text><rect x="446" y="883.00" width="13.1" height="2.4" fill="#e2348c"/><text x="461.00" y="887.00">8</text><rect x="475.9" y="883.00" width="13.1" height="2.4" fill="#888888"/><text x="491.50" y="887.00">16</text><text x="528.60" y="804.90" font-weight="bold" text-anchor="middle" font-size="7.1">MFI</text><text x="517.40" y="814.80" text-anchor="middle">Pre</text><text x="538.50" y="814.80" text-anchor="middle">End</text><defs><linearGradient id="gb" x1="0" y1="0" x2="0" y2="1"><stop offset="0" stop-color="#2f5fab"/><stop offset="0.35" stop-color="#3e68b0"/><stop offset="0.7" stop-color="#7d93cb"/><stop offset="0.94" stop-color="#e2e7f5"/><stop offset="0.94" stop-color="#fff"/></linearGradient><linearGradient id="gr" x1="0" y1="0" x2="0" y2="1"><stop offset="0" stop-color="#e31f30"/><stop offset="0.3" stop-color="#e53338"/><stop offset="0.65" stop-color="#ee7462"/><stop offset="0.94" stop-color="#fde2d8"/><stop offset="0.94" stop-color="#fff"/></linearGradient></defs><rect x="511.2" y="819.4" width="12.4" height="65.2" fill="url(#gb)" stroke="#222" stroke-width="1"/><rect x="532.3" y="819.4" width="12.4" height="65.2" fill="url(#gr)" stroke="#222" stroke-width="1"/><path d="M511.2 825.0h1.3M523.6 825.0h-1.3" stroke="#222" stroke-width="0.7"/><path d="M532.3 825.0h1.3M544.7 825.0h-1.3" stroke="#222" stroke-width="0.7"/><path d="M511.2 843.4h1.3M523.6 843.4h-1.3" stroke="#222" stroke-width="0.7"/><path d="M532.3 843.4h1.3M544.7 843.4h-1.3" stroke="#222" stroke-width="0.7"/><path d="M511.2 862.2h1.3M523.6 862.2h-1.3" stroke="#222" stroke-width="0.7"/><path d="M532.3 862.2h1.3M544.7 862.2h-1.3" stroke="#222" stroke-width="0.7"/><path d="M511.2 880.6h1.3M523.6 880.6h-1.3" stroke="#222" stroke-width="0.7"/><path d="M532.3 880.6h1.3M544.7 880.6h-1.3" stroke="#222" stroke-width="0.7"/><text x="547.80" y="827.20">60,000</text><text x="547.80" y="845.60">40,000</text><text x="547.80" y="864.40">20,000</text><text x="547.80" y="882.80">1,000</text></svg></body></html>
